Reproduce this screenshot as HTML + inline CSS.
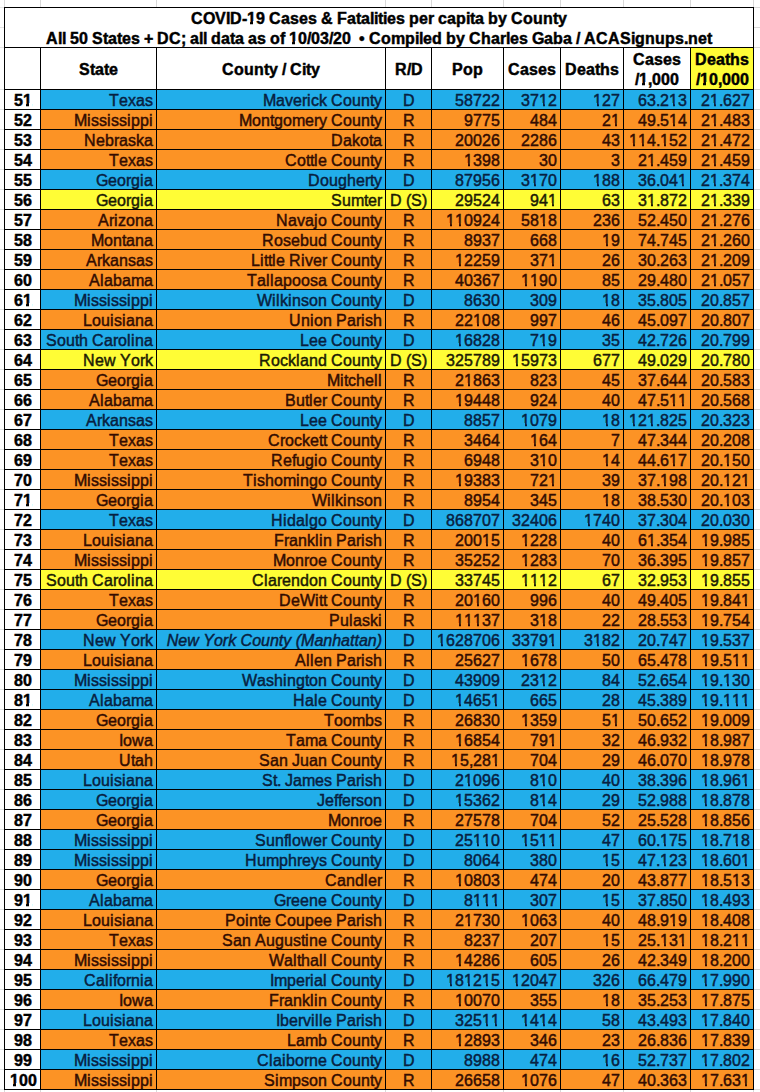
<!DOCTYPE html><html><head><meta charset="utf-8"><title>COVID-19 Cases & Fatalities per capita by County</title><style>html,body{margin:0;padding:0;background:#fff;}body{width:760px;height:1092px;position:relative;overflow:hidden;font-family:"Liberation Sans",sans-serif;color:#000;font-kerning:none;}.a{position:absolute;}.h{position:absolute;height:1px;background:#000;}.v{position:absolute;width:1px;background:#000;}.gh{position:absolute;height:1px;background:#d9d9d9;}.gv{position:absolute;width:1px;background:#d9d9d9;}.t{position:absolute;white-space:nowrap;font-size:16px;line-height:20px;height:20px;}.r{text-align:right;}.c{text-align:center;}.b{font-weight:bold;}.i{font-style:italic;}.t{-webkit-text-stroke:0.45px currentColor;}.o{position:relative}.o::before,.o::after{content:"";position:absolute;background:var(--bg,#fff);top:12.0px;height:4.0px}.o::before{left:0.0px;width:3.85px}.o::after{left:5.65px;width:3.2px}.b .o::before{left:0.1px;width:3.25px;top:11.8px;height:4.2px}.b .o::after{left:6.25px;width:2.8px}.b .o::after{top:11.8px;height:4.2px}.k2{display:inline-block;width:2px}.k3{display:inline-block;width:3px}.k4{display:inline-block;width:4px}.k5{display:inline-block;width:5px}.k6{display:inline-block;width:6px}.k7{display:inline-block;width:7px}.k8{display:inline-block;width:8px}.k9{display:inline-block;width:9px}.k10{display:inline-block;width:10px}.k11{display:inline-block;width:11px}.k12{display:inline-block;width:12px}.k13{display:inline-block;width:13px}.k14{display:inline-block;width:14px}.k15{display:inline-block;width:15px}.cb{--bg:#22aeea}.co{--bg:#fc9325}.cy{--bg:#fffd36}</style></head><body><div class="a" style="left:40px;top:89px;width:713px;height:20px;background:#22aeea"></div><div class="a" style="left:40px;top:109px;width:713px;height:20px;background:#fc9325"></div><div class="a" style="left:40px;top:129px;width:713px;height:20px;background:#fc9325"></div><div class="a" style="left:40px;top:149px;width:713px;height:20px;background:#fc9325"></div><div class="a" style="left:40px;top:169px;width:713px;height:20px;background:#22aeea"></div><div class="a" style="left:40px;top:189px;width:713px;height:20px;background:#fffd36"></div><div class="a" style="left:40px;top:209px;width:713px;height:20px;background:#fc9325"></div><div class="a" style="left:40px;top:229px;width:713px;height:20px;background:#fc9325"></div><div class="a" style="left:40px;top:249px;width:713px;height:20px;background:#fc9325"></div><div class="a" style="left:40px;top:269px;width:713px;height:20px;background:#fc9325"></div><div class="a" style="left:40px;top:289px;width:713px;height:20px;background:#22aeea"></div><div class="a" style="left:40px;top:309px;width:713px;height:20px;background:#fc9325"></div><div class="a" style="left:40px;top:329px;width:713px;height:20px;background:#22aeea"></div><div class="a" style="left:40px;top:349px;width:713px;height:20px;background:#fffd36"></div><div class="a" style="left:40px;top:369px;width:713px;height:20px;background:#fc9325"></div><div class="a" style="left:40px;top:389px;width:713px;height:20px;background:#fc9325"></div><div class="a" style="left:40px;top:409px;width:713px;height:20px;background:#22aeea"></div><div class="a" style="left:40px;top:429px;width:713px;height:20px;background:#fc9325"></div><div class="a" style="left:40px;top:449px;width:713px;height:20px;background:#fc9325"></div><div class="a" style="left:40px;top:469px;width:713px;height:20px;background:#fc9325"></div><div class="a" style="left:40px;top:489px;width:713px;height:20px;background:#fc9325"></div><div class="a" style="left:40px;top:509px;width:713px;height:20px;background:#22aeea"></div><div class="a" style="left:40px;top:529px;width:713px;height:20px;background:#fc9325"></div><div class="a" style="left:40px;top:549px;width:713px;height:20px;background:#fc9325"></div><div class="a" style="left:40px;top:569px;width:713px;height:20px;background:#fffd36"></div><div class="a" style="left:40px;top:589px;width:713px;height:20px;background:#fc9325"></div><div class="a" style="left:40px;top:609px;width:713px;height:20px;background:#fc9325"></div><div class="a" style="left:40px;top:629px;width:713px;height:20px;background:#22aeea"></div><div class="a" style="left:40px;top:649px;width:713px;height:20px;background:#fc9325"></div><div class="a" style="left:40px;top:669px;width:713px;height:20px;background:#22aeea"></div><div class="a" style="left:40px;top:689px;width:713px;height:20px;background:#22aeea"></div><div class="a" style="left:40px;top:709px;width:713px;height:20px;background:#fc9325"></div><div class="a" style="left:40px;top:729px;width:713px;height:20px;background:#fc9325"></div><div class="a" style="left:40px;top:749px;width:713px;height:20px;background:#fc9325"></div><div class="a" style="left:40px;top:769px;width:713px;height:20px;background:#22aeea"></div><div class="a" style="left:40px;top:789px;width:713px;height:20px;background:#22aeea"></div><div class="a" style="left:40px;top:809px;width:713px;height:20px;background:#fc9325"></div><div class="a" style="left:40px;top:829px;width:713px;height:20px;background:#22aeea"></div><div class="a" style="left:40px;top:849px;width:713px;height:20px;background:#22aeea"></div><div class="a" style="left:40px;top:869px;width:713px;height:20px;background:#fc9325"></div><div class="a" style="left:40px;top:889px;width:713px;height:20px;background:#22aeea"></div><div class="a" style="left:40px;top:909px;width:713px;height:20px;background:#fc9325"></div><div class="a" style="left:40px;top:929px;width:713px;height:20px;background:#fc9325"></div><div class="a" style="left:40px;top:949px;width:713px;height:20px;background:#fc9325"></div><div class="a" style="left:40px;top:969px;width:713px;height:20px;background:#22aeea"></div><div class="a" style="left:40px;top:989px;width:713px;height:20px;background:#fc9325"></div><div class="a" style="left:40px;top:1009px;width:713px;height:20px;background:#22aeea"></div><div class="a" style="left:40px;top:1029px;width:713px;height:20px;background:#fc9325"></div><div class="a" style="left:40px;top:1049px;width:713px;height:20px;background:#22aeea"></div><div class="a" style="left:40px;top:1069px;width:713px;height:20px;background:#fc9325"></div><div class="a" style="left:690px;top:47px;width:63px;height:42px;background:#fffd36"></div><div class="gv" style="left:4px;top:0;height:7px"></div><div class="gv" style="left:4px;top:1090px;height:2px"></div><div class="gv" style="left:40px;top:0;height:7px"></div><div class="gv" style="left:40px;top:1090px;height:2px"></div><div class="gv" style="left:156px;top:0;height:7px"></div><div class="gv" style="left:156px;top:1090px;height:2px"></div><div class="gv" style="left:385px;top:0;height:7px"></div><div class="gv" style="left:385px;top:1090px;height:2px"></div><div class="gv" style="left:431px;top:0;height:7px"></div><div class="gv" style="left:431px;top:1090px;height:2px"></div><div class="gv" style="left:503px;top:0;height:7px"></div><div class="gv" style="left:503px;top:1090px;height:2px"></div><div class="gv" style="left:560px;top:0;height:7px"></div><div class="gv" style="left:560px;top:1090px;height:2px"></div><div class="gv" style="left:623px;top:0;height:7px"></div><div class="gv" style="left:623px;top:1090px;height:2px"></div><div class="gv" style="left:690px;top:0;height:7px"></div><div class="gv" style="left:690px;top:1090px;height:2px"></div><div class="gv" style="left:753px;top:0;height:7px"></div><div class="gv" style="left:753px;top:1090px;height:2px"></div><div class="gh" style="left:0;top:7px;width:4px;background:#e4e4e4"></div><div class="gh" style="left:754px;top:7px;width:6px"></div><div class="gh" style="left:0;top:27px;width:4px;background:#e4e4e4"></div><div class="gh" style="left:754px;top:27px;width:6px"></div><div class="gh" style="left:0;top:47px;width:4px;background:#e4e4e4"></div><div class="gh" style="left:754px;top:47px;width:6px"></div><div class="gh" style="left:0;top:89px;width:4px;background:#e4e4e4"></div><div class="gh" style="left:754px;top:89px;width:6px"></div><div class="gh" style="left:0;top:109px;width:4px;background:#e4e4e4"></div><div class="gh" style="left:754px;top:109px;width:6px"></div><div class="gh" style="left:0;top:129px;width:4px;background:#e4e4e4"></div><div class="gh" style="left:754px;top:129px;width:6px"></div><div class="gh" style="left:0;top:149px;width:4px;background:#e4e4e4"></div><div class="gh" style="left:754px;top:149px;width:6px"></div><div class="gh" style="left:0;top:169px;width:4px;background:#e4e4e4"></div><div class="gh" style="left:754px;top:169px;width:6px"></div><div class="gh" style="left:0;top:189px;width:4px;background:#e4e4e4"></div><div class="gh" style="left:754px;top:189px;width:6px"></div><div class="gh" style="left:0;top:209px;width:4px;background:#e4e4e4"></div><div class="gh" style="left:754px;top:209px;width:6px"></div><div class="gh" style="left:0;top:229px;width:4px;background:#e4e4e4"></div><div class="gh" style="left:754px;top:229px;width:6px"></div><div class="gh" style="left:0;top:249px;width:4px;background:#e4e4e4"></div><div class="gh" style="left:754px;top:249px;width:6px"></div><div class="gh" style="left:0;top:269px;width:4px;background:#e4e4e4"></div><div class="gh" style="left:754px;top:269px;width:6px"></div><div class="gh" style="left:0;top:289px;width:4px;background:#e4e4e4"></div><div class="gh" style="left:754px;top:289px;width:6px"></div><div class="gh" style="left:0;top:309px;width:4px;background:#e4e4e4"></div><div class="gh" style="left:754px;top:309px;width:6px"></div><div class="gh" style="left:0;top:329px;width:4px;background:#e4e4e4"></div><div class="gh" style="left:754px;top:329px;width:6px"></div><div class="gh" style="left:0;top:349px;width:4px;background:#e4e4e4"></div><div class="gh" style="left:754px;top:349px;width:6px"></div><div class="gh" style="left:0;top:369px;width:4px;background:#e4e4e4"></div><div class="gh" style="left:754px;top:369px;width:6px"></div><div class="gh" style="left:0;top:389px;width:4px;background:#e4e4e4"></div><div class="gh" style="left:754px;top:389px;width:6px"></div><div class="gh" style="left:0;top:409px;width:4px;background:#e4e4e4"></div><div class="gh" style="left:754px;top:409px;width:6px"></div><div class="gh" style="left:0;top:429px;width:4px;background:#e4e4e4"></div><div class="gh" style="left:754px;top:429px;width:6px"></div><div class="gh" style="left:0;top:449px;width:4px;background:#e4e4e4"></div><div class="gh" style="left:754px;top:449px;width:6px"></div><div class="gh" style="left:0;top:469px;width:4px;background:#e4e4e4"></div><div class="gh" style="left:754px;top:469px;width:6px"></div><div class="gh" style="left:0;top:489px;width:4px;background:#e4e4e4"></div><div class="gh" style="left:754px;top:489px;width:6px"></div><div class="gh" style="left:0;top:509px;width:4px;background:#e4e4e4"></div><div class="gh" style="left:754px;top:509px;width:6px"></div><div class="gh" style="left:0;top:529px;width:4px;background:#e4e4e4"></div><div class="gh" style="left:754px;top:529px;width:6px"></div><div class="gh" style="left:0;top:549px;width:4px;background:#e4e4e4"></div><div class="gh" style="left:754px;top:549px;width:6px"></div><div class="gh" style="left:0;top:569px;width:4px;background:#e4e4e4"></div><div class="gh" style="left:754px;top:569px;width:6px"></div><div class="gh" style="left:0;top:589px;width:4px;background:#e4e4e4"></div><div class="gh" style="left:754px;top:589px;width:6px"></div><div class="gh" style="left:0;top:609px;width:4px;background:#e4e4e4"></div><div class="gh" style="left:754px;top:609px;width:6px"></div><div class="gh" style="left:0;top:629px;width:4px;background:#e4e4e4"></div><div class="gh" style="left:754px;top:629px;width:6px"></div><div class="gh" style="left:0;top:649px;width:4px;background:#e4e4e4"></div><div class="gh" style="left:754px;top:649px;width:6px"></div><div class="gh" style="left:0;top:669px;width:4px;background:#e4e4e4"></div><div class="gh" style="left:754px;top:669px;width:6px"></div><div class="gh" style="left:0;top:689px;width:4px;background:#e4e4e4"></div><div class="gh" style="left:754px;top:689px;width:6px"></div><div class="gh" style="left:0;top:709px;width:4px;background:#e4e4e4"></div><div class="gh" style="left:754px;top:709px;width:6px"></div><div class="gh" style="left:0;top:729px;width:4px;background:#e4e4e4"></div><div class="gh" style="left:754px;top:729px;width:6px"></div><div class="gh" style="left:0;top:749px;width:4px;background:#e4e4e4"></div><div class="gh" style="left:754px;top:749px;width:6px"></div><div class="gh" style="left:0;top:769px;width:4px;background:#e4e4e4"></div><div class="gh" style="left:754px;top:769px;width:6px"></div><div class="gh" style="left:0;top:789px;width:4px;background:#e4e4e4"></div><div class="gh" style="left:754px;top:789px;width:6px"></div><div class="gh" style="left:0;top:809px;width:4px;background:#e4e4e4"></div><div class="gh" style="left:754px;top:809px;width:6px"></div><div class="gh" style="left:0;top:829px;width:4px;background:#e4e4e4"></div><div class="gh" style="left:754px;top:829px;width:6px"></div><div class="gh" style="left:0;top:849px;width:4px;background:#e4e4e4"></div><div class="gh" style="left:754px;top:849px;width:6px"></div><div class="gh" style="left:0;top:869px;width:4px;background:#e4e4e4"></div><div class="gh" style="left:754px;top:869px;width:6px"></div><div class="gh" style="left:0;top:889px;width:4px;background:#e4e4e4"></div><div class="gh" style="left:754px;top:889px;width:6px"></div><div class="gh" style="left:0;top:909px;width:4px;background:#e4e4e4"></div><div class="gh" style="left:754px;top:909px;width:6px"></div><div class="gh" style="left:0;top:929px;width:4px;background:#e4e4e4"></div><div class="gh" style="left:754px;top:929px;width:6px"></div><div class="gh" style="left:0;top:949px;width:4px;background:#e4e4e4"></div><div class="gh" style="left:754px;top:949px;width:6px"></div><div class="gh" style="left:0;top:969px;width:4px;background:#e4e4e4"></div><div class="gh" style="left:754px;top:969px;width:6px"></div><div class="gh" style="left:0;top:989px;width:4px;background:#e4e4e4"></div><div class="gh" style="left:754px;top:989px;width:6px"></div><div class="gh" style="left:0;top:1009px;width:4px;background:#e4e4e4"></div><div class="gh" style="left:754px;top:1009px;width:6px"></div><div class="gh" style="left:0;top:1029px;width:4px;background:#e4e4e4"></div><div class="gh" style="left:754px;top:1029px;width:6px"></div><div class="gh" style="left:0;top:1049px;width:4px;background:#e4e4e4"></div><div class="gh" style="left:754px;top:1049px;width:6px"></div><div class="gh" style="left:0;top:1069px;width:4px;background:#e4e4e4"></div><div class="gh" style="left:754px;top:1069px;width:6px"></div><div class="gh" style="left:0;top:1089px;width:4px;background:#e4e4e4"></div><div class="gh" style="left:754px;top:1089px;width:6px"></div><div class="h" style="left:4px;top:7px;width:750px"></div><div class="h" style="left:4px;top:47px;width:750px"></div><div class="h" style="left:4px;top:89px;width:750px"></div><div class="h" style="left:4px;top:109px;width:750px"></div><div class="h" style="left:4px;top:129px;width:750px"></div><div class="h" style="left:4px;top:149px;width:750px"></div><div class="h" style="left:4px;top:169px;width:750px"></div><div class="h" style="left:4px;top:189px;width:750px"></div><div class="h" style="left:4px;top:209px;width:750px"></div><div class="h" style="left:4px;top:229px;width:750px"></div><div class="h" style="left:4px;top:249px;width:750px"></div><div class="h" style="left:4px;top:269px;width:750px"></div><div class="h" style="left:4px;top:289px;width:750px"></div><div class="h" style="left:4px;top:309px;width:750px"></div><div class="h" style="left:4px;top:329px;width:750px"></div><div class="h" style="left:4px;top:349px;width:750px"></div><div class="h" style="left:4px;top:369px;width:750px"></div><div class="h" style="left:4px;top:389px;width:750px"></div><div class="h" style="left:4px;top:409px;width:750px"></div><div class="h" style="left:4px;top:429px;width:750px"></div><div class="h" style="left:4px;top:449px;width:750px"></div><div class="h" style="left:4px;top:469px;width:750px"></div><div class="h" style="left:4px;top:489px;width:750px"></div><div class="h" style="left:4px;top:509px;width:750px"></div><div class="h" style="left:4px;top:529px;width:750px"></div><div class="h" style="left:4px;top:549px;width:750px"></div><div class="h" style="left:4px;top:569px;width:750px"></div><div class="h" style="left:4px;top:589px;width:750px"></div><div class="h" style="left:4px;top:609px;width:750px"></div><div class="h" style="left:4px;top:629px;width:750px"></div><div class="h" style="left:4px;top:649px;width:750px"></div><div class="h" style="left:4px;top:669px;width:750px"></div><div class="h" style="left:4px;top:689px;width:750px"></div><div class="h" style="left:4px;top:709px;width:750px"></div><div class="h" style="left:4px;top:729px;width:750px"></div><div class="h" style="left:4px;top:749px;width:750px"></div><div class="h" style="left:4px;top:769px;width:750px"></div><div class="h" style="left:4px;top:789px;width:750px"></div><div class="h" style="left:4px;top:809px;width:750px"></div><div class="h" style="left:4px;top:829px;width:750px"></div><div class="h" style="left:4px;top:849px;width:750px"></div><div class="h" style="left:4px;top:869px;width:750px"></div><div class="h" style="left:4px;top:889px;width:750px"></div><div class="h" style="left:4px;top:909px;width:750px"></div><div class="h" style="left:4px;top:929px;width:750px"></div><div class="h" style="left:4px;top:949px;width:750px"></div><div class="h" style="left:4px;top:969px;width:750px"></div><div class="h" style="left:4px;top:989px;width:750px"></div><div class="h" style="left:4px;top:1009px;width:750px"></div><div class="h" style="left:4px;top:1029px;width:750px"></div><div class="h" style="left:4px;top:1049px;width:750px"></div><div class="h" style="left:4px;top:1069px;width:750px"></div><div class="h" style="left:4px;top:1089px;width:750px"></div><div class="v" style="left:4px;top:7px;height:1083px"></div><div class="v" style="left:753px;top:7px;height:1083px"></div><div class="v" style="left:40px;top:47px;height:1043px"></div><div class="v" style="left:156px;top:47px;height:1043px"></div><div class="v" style="left:385px;top:47px;height:1043px"></div><div class="v" style="left:431px;top:47px;height:1043px"></div><div class="v" style="left:503px;top:47px;height:1043px"></div><div class="v" style="left:560px;top:47px;height:1043px"></div><div class="v" style="left:623px;top:47px;height:1043px"></div><div class="v" style="left:690px;top:47px;height:1043px"></div><div class="t b" style="left:191px;top:9px"><span class="k12">C</span><span class="k12">O</span><span class="k11">V</span><span class="k4">I</span><span class="k12">D</span><span class="k5">-</span><span class="k9 o">1</span><span class="k9">9</span><span class="k4">&nbsp;</span><span class="k12">C</span><span class="k9">a</span><span class="k9">s</span><span class="k9">e</span><span class="k9">s</span><span class="k4">&nbsp;</span><span class="k12">&amp;</span><span class="k4">&nbsp;</span><span class="k10">F</span><span class="k9">a</span><span class="k5">t</span><span class="k9">a</span><span class="k4">l</span><span class="k4">i</span><span class="k5">t</span><span class="k4">i</span><span class="k9">e</span><span class="k9">s</span><span class="k4">&nbsp;</span><span class="k10">p</span><span class="k9">e</span><span class="k6">r</span><span class="k4">&nbsp;</span><span class="k9">c</span><span class="k9">a</span><span class="k10">p</span><span class="k4">i</span><span class="k5">t</span><span class="k9">a</span><span class="k4">&nbsp;</span><span class="k10">b</span><span class="k9">y</span><span class="k4">&nbsp;</span><span class="k12">C</span><span class="k10">o</span><span class="k10">u</span><span class="k10">n</span><span class="k5">t</span><span class="k9">y</span></div><div class="t b" style="left:46px;top:29px"><span class="k12">A</span><span class="k4">l</span><span class="k4">l</span><span class="k4">&nbsp;</span><span class="k9">5</span><span class="k9">0</span><span class="k4">&nbsp;</span><span class="k11">S</span><span class="k5">t</span><span class="k9">a</span><span class="k5">t</span><span class="k9">e</span><span class="k9">s</span><span class="k4">&nbsp;</span><span class="k9">+</span><span class="k4">&nbsp;</span><span class="k12">D</span><span class="k12">C</span><span class="k5">;</span><span class="k4">&nbsp;</span><span class="k9">a</span><span class="k4">l</span><span class="k4">l</span><span class="k4">&nbsp;</span><span class="k10">d</span><span class="k9">a</span><span class="k5">t</span><span class="k9">a</span><span class="k4">&nbsp;</span><span class="k9">a</span><span class="k9">s</span><span class="k4">&nbsp;</span><span class="k10">o</span><span class="k5">f</span><span class="k4">&nbsp;</span><span class="k9 o">1</span><span class="k9">0</span><span class="k4">/</span><span class="k9">0</span><span class="k9">3</span><span class="k4">/</span><span class="k9">2</span><span class="k9">0</span><span class="k4">&nbsp;</span><span class="k4">&nbsp;</span><span class="k6">&bull;</span><span class="k4">&nbsp;</span><span class="k12">C</span><span class="k10">o</span><span class="k14">m</span><span class="k10">p</span><span class="k4">i</span><span class="k4">l</span><span class="k9">e</span><span class="k10">d</span><span class="k4">&nbsp;</span><span class="k10">b</span><span class="k9">y</span><span class="k4">&nbsp;</span><span class="k12">C</span><span class="k10">h</span><span class="k9">a</span><span class="k6">r</span><span class="k4">l</span><span class="k9">e</span><span class="k9">s</span><span class="k4">&nbsp;</span><span class="k12">G</span><span class="k9">a</span><span class="k10">b</span><span class="k9">a</span><span class="k4">&nbsp;</span><span class="k4">/</span><span class="k4">&nbsp;</span><span class="k12">A</span><span class="k12">C</span><span class="k12">A</span><span class="k11">S</span><span class="k4">i</span><span class="k10">g</span><span class="k10">n</span><span class="k10">u</span><span class="k10">p</span><span class="k9">s</span><span class="k4">.</span><span class="k10">n</span><span class="k9">e</span><span class="k5">t</span></div><div class="t b" style="left:79px;top:60px"><span class="k11">S</span><span class="k5">t</span><span class="k9">a</span><span class="k5">t</span><span class="k9">e</span></div><div class="t b" style="left:222px;top:60px"><span class="k12">C</span><span class="k10">o</span><span class="k10">u</span><span class="k10">n</span><span class="k5">t</span><span class="k9">y</span><span class="k4">&nbsp;</span><span class="k4">/</span><span class="k4">&nbsp;</span><span class="k12">C</span><span class="k4">i</span><span class="k5">t</span><span class="k9">y</span></div><div class="t b" style="left:395px;top:60px"><span class="k12">R</span><span class="k4">/</span><span class="k12">D</span></div><div class="t b" style="left:452px;top:60px"><span class="k11">P</span><span class="k10">o</span><span class="k10">p</span></div><div class="t b" style="left:508px;top:60px"><span class="k12">C</span><span class="k9">a</span><span class="k9">s</span><span class="k9">e</span><span class="k9">s</span></div><div class="t b" style="left:565px;top:60px"><span class="k12">D</span><span class="k9">e</span><span class="k9">a</span><span class="k5">t</span><span class="k10">h</span><span class="k9">s</span></div><div class="t b" style="left:633px;top:50px"><span class="k12">C</span><span class="k9">a</span><span class="k9">s</span><span class="k9">e</span><span class="k9">s</span></div><div class="t b" style="left:635px;top:70px"><span class="k4">/</span><span class="k9 o">1</span><span class="k4">,</span><span class="k9">0</span><span class="k9">0</span><span class="k9">0</span></div><div class="t b" style="left:695px;top:50px"><span class="k12">D</span><span class="k9">e</span><span class="k9">a</span><span class="k5">t</span><span class="k10">h</span><span class="k9">s</span></div><div class="t cy b" style="left:696px;top:70px"><span class="k4">/</span><span class="k9 o">1</span><span class="k9">0</span><span class="k4">,</span><span class="k9">0</span><span class="k9">0</span><span class="k9">0</span></div><div class="t b" style="left:14px;top:91px"><span class="k9">5</span><span class="k9 o">1</span></div><div class="t cb" style="left:109px;top:91px;color:#08203f"><span class="k10">T</span><span class="k9">e</span><span class="k8">x</span><span class="k9">a</span><span class="k8">s</span></div><div class="t cb" style="left:263px;top:91px;color:#08203f"><span class="k13">M</span><span class="k9">a</span><span class="k8">v</span><span class="k9">e</span><span class="k5">r</span><span class="k4">i</span><span class="k8">c</span><span class="k8">k</span><span class="k4">&nbsp;</span><span class="k12">C</span><span class="k9">o</span><span class="k9">u</span><span class="k9">n</span><span class="k4">t</span><span class="k8">y</span></div><div class="t cb" style="left:403px;top:91px;color:#08203f"><span class="k12">D</span></div><div class="t cb" style="left:455px;top:91px;color:#08203f"><span class="k9">5</span><span class="k9">8</span><span class="k9">7</span><span class="k9">2</span><span class="k9">2</span></div><div class="t cb" style="left:521px;top:91px;color:#08203f"><span class="k9">3</span><span class="k9">7</span><span class="k9 o">1</span><span class="k9">2</span></div><div class="t cb" style="left:593px;top:91px;color:#08203f"><span class="k9 o">1</span><span class="k9">2</span><span class="k9">7</span></div><div class="t cb" style="left:638px;top:91px;color:#08203f"><span class="k9">6</span><span class="k9">3</span><span class="k4">.</span><span class="k9">2</span><span class="k9 o">1</span><span class="k9">3</span></div><div class="t cb" style="left:701px;top:91px;color:#08203f"><span class="k9">2</span><span class="k9 o">1</span><span class="k4">.</span><span class="k9">6</span><span class="k9">2</span><span class="k9">7</span></div><div class="t b" style="left:14px;top:111px"><span class="k9">5</span><span class="k9">2</span></div><div class="t co" style="left:74px;top:111px;color:#320c02"><span class="k13">M</span><span class="k4">i</span><span class="k8">s</span><span class="k8">s</span><span class="k4">i</span><span class="k8">s</span><span class="k8">s</span><span class="k4">i</span><span class="k9">p</span><span class="k9">p</span><span class="k4">i</span></div><div class="t co" style="left:239px;top:111px;color:#320c02"><span class="k13">M</span><span class="k9">o</span><span class="k9">n</span><span class="k4">t</span><span class="k9">g</span><span class="k9">o</span><span class="k13">m</span><span class="k9">e</span><span class="k5">r</span><span class="k8">y</span><span class="k4">&nbsp;</span><span class="k12">C</span><span class="k9">o</span><span class="k9">u</span><span class="k9">n</span><span class="k4">t</span><span class="k8">y</span></div><div class="t co" style="left:403px;top:111px;color:#320c02"><span class="k12">R</span></div><div class="t co" style="left:464px;top:111px;color:#320c02"><span class="k9">9</span><span class="k9">7</span><span class="k9">7</span><span class="k9">5</span></div><div class="t co" style="left:530px;top:111px;color:#320c02"><span class="k9">4</span><span class="k9">8</span><span class="k9">4</span></div><div class="t co" style="left:602px;top:111px;color:#320c02"><span class="k9">2</span><span class="k9 o">1</span></div><div class="t co" style="left:638px;top:111px;color:#320c02"><span class="k9">4</span><span class="k9">9</span><span class="k4">.</span><span class="k9">5</span><span class="k9 o">1</span><span class="k9">4</span></div><div class="t co" style="left:701px;top:111px;color:#320c02"><span class="k9">2</span><span class="k9 o">1</span><span class="k4">.</span><span class="k9">4</span><span class="k9">8</span><span class="k9">3</span></div><div class="t b" style="left:14px;top:131px"><span class="k9">5</span><span class="k9">3</span></div><div class="t co" style="left:84px;top:131px;color:#320c02"><span class="k12">N</span><span class="k9">e</span><span class="k9">b</span><span class="k5">r</span><span class="k9">a</span><span class="k8">s</span><span class="k8">k</span><span class="k9">a</span></div><div class="t co" style="left:331px;top:131px;color:#320c02"><span class="k12">D</span><span class="k9">a</span><span class="k8">k</span><span class="k9">o</span><span class="k4">t</span><span class="k9">a</span></div><div class="t co" style="left:403px;top:131px;color:#320c02"><span class="k12">R</span></div><div class="t co" style="left:455px;top:131px;color:#320c02"><span class="k9">2</span><span class="k9">0</span><span class="k9">0</span><span class="k9">2</span><span class="k9">6</span></div><div class="t co" style="left:521px;top:131px;color:#320c02"><span class="k9">2</span><span class="k9">2</span><span class="k9">8</span><span class="k9">6</span></div><div class="t co" style="left:602px;top:131px;color:#320c02"><span class="k9">4</span><span class="k9">3</span></div><div class="t co" style="left:629px;top:131px;color:#320c02"><span class="k9 o">1</span><span class="k9 o">1</span><span class="k9">4</span><span class="k4">.</span><span class="k9 o">1</span><span class="k9">5</span><span class="k9">2</span></div><div class="t co" style="left:701px;top:131px;color:#320c02"><span class="k9">2</span><span class="k9 o">1</span><span class="k4">.</span><span class="k9">4</span><span class="k9">7</span><span class="k9">2</span></div><div class="t b" style="left:14px;top:151px"><span class="k9">5</span><span class="k9">4</span></div><div class="t co" style="left:109px;top:151px;color:#320c02"><span class="k10">T</span><span class="k9">e</span><span class="k8">x</span><span class="k9">a</span><span class="k8">s</span></div><div class="t co" style="left:285px;top:151px;color:#320c02"><span class="k12">C</span><span class="k9">o</span><span class="k4">t</span><span class="k4">t</span><span class="k4">l</span><span class="k9">e</span><span class="k4">&nbsp;</span><span class="k12">C</span><span class="k9">o</span><span class="k9">u</span><span class="k9">n</span><span class="k4">t</span><span class="k8">y</span></div><div class="t co" style="left:403px;top:151px;color:#320c02"><span class="k12">R</span></div><div class="t co" style="left:464px;top:151px;color:#320c02"><span class="k9 o">1</span><span class="k9">3</span><span class="k9">9</span><span class="k9">8</span></div><div class="t co" style="left:539px;top:151px;color:#320c02"><span class="k9">3</span><span class="k9">0</span></div><div class="t co" style="left:611px;top:151px;color:#320c02"><span class="k9">3</span></div><div class="t co" style="left:638px;top:151px;color:#320c02"><span class="k9">2</span><span class="k9 o">1</span><span class="k4">.</span><span class="k9">4</span><span class="k9">5</span><span class="k9">9</span></div><div class="t co" style="left:701px;top:151px;color:#320c02"><span class="k9">2</span><span class="k9 o">1</span><span class="k4">.</span><span class="k9">4</span><span class="k9">5</span><span class="k9">9</span></div><div class="t b" style="left:14px;top:171px"><span class="k9">5</span><span class="k9">5</span></div><div class="t cb" style="left:96px;top:171px;color:#08203f"><span class="k12">G</span><span class="k9">e</span><span class="k9">o</span><span class="k5">r</span><span class="k9">g</span><span class="k4">i</span><span class="k9">a</span></div><div class="t cb" style="left:308px;top:171px;color:#08203f"><span class="k12">D</span><span class="k9">o</span><span class="k9">u</span><span class="k9">g</span><span class="k9">h</span><span class="k9">e</span><span class="k5">r</span><span class="k4">t</span><span class="k8">y</span></div><div class="t cb" style="left:403px;top:171px;color:#08203f"><span class="k12">D</span></div><div class="t cb" style="left:455px;top:171px;color:#08203f"><span class="k9">8</span><span class="k9">7</span><span class="k9">9</span><span class="k9">5</span><span class="k9">6</span></div><div class="t cb" style="left:521px;top:171px;color:#08203f"><span class="k9">3</span><span class="k9 o">1</span><span class="k9">7</span><span class="k9">0</span></div><div class="t cb" style="left:593px;top:171px;color:#08203f"><span class="k9 o">1</span><span class="k9">8</span><span class="k9">8</span></div><div class="t cb" style="left:638px;top:171px;color:#08203f"><span class="k9">3</span><span class="k9">6</span><span class="k4">.</span><span class="k9">0</span><span class="k9">4</span><span class="k9 o">1</span></div><div class="t cb" style="left:701px;top:171px;color:#08203f"><span class="k9">2</span><span class="k9 o">1</span><span class="k4">.</span><span class="k9">3</span><span class="k9">7</span><span class="k9">4</span></div><div class="t b" style="left:14px;top:191px"><span class="k9">5</span><span class="k9">6</span></div><div class="t cy" style="left:96px;top:191px;color:#1b1b05"><span class="k12">G</span><span class="k9">e</span><span class="k9">o</span><span class="k5">r</span><span class="k9">g</span><span class="k4">i</span><span class="k9">a</span></div><div class="t cy" style="left:331px;top:191px;color:#1b1b05"><span class="k11">S</span><span class="k9">u</span><span class="k13">m</span><span class="k4">t</span><span class="k9">e</span><span class="k5">r</span></div><div class="t cy" style="left:390px;top:191px;color:#1b1b05"><span class="k12">D</span><span class="k4">&nbsp;</span><span class="k5">(</span><span class="k11">S</span><span class="k5">)</span></div><div class="t cy" style="left:455px;top:191px;color:#1b1b05"><span class="k9">2</span><span class="k9">9</span><span class="k9">5</span><span class="k9">2</span><span class="k9">4</span></div><div class="t cy" style="left:530px;top:191px;color:#1b1b05"><span class="k9">9</span><span class="k9">4</span><span class="k9 o">1</span></div><div class="t cy" style="left:602px;top:191px;color:#1b1b05"><span class="k9">6</span><span class="k9">3</span></div><div class="t cy" style="left:638px;top:191px;color:#1b1b05"><span class="k9">3</span><span class="k9 o">1</span><span class="k4">.</span><span class="k9">8</span><span class="k9">7</span><span class="k9">2</span></div><div class="t cy" style="left:701px;top:191px;color:#1b1b05"><span class="k9">2</span><span class="k9 o">1</span><span class="k4">.</span><span class="k9">3</span><span class="k9">3</span><span class="k9">9</span></div><div class="t b" style="left:14px;top:211px"><span class="k9">5</span><span class="k9">7</span></div><div class="t co" style="left:98px;top:211px;color:#320c02"><span class="k11">A</span><span class="k5">r</span><span class="k4">i</span><span class="k8">z</span><span class="k9">o</span><span class="k9">n</span><span class="k9">a</span></div><div class="t co" style="left:276px;top:211px;color:#320c02"><span class="k12">N</span><span class="k9">a</span><span class="k8">v</span><span class="k9">a</span><span class="k4">j</span><span class="k9">o</span><span class="k4">&nbsp;</span><span class="k12">C</span><span class="k9">o</span><span class="k9">u</span><span class="k9">n</span><span class="k4">t</span><span class="k8">y</span></div><div class="t co" style="left:403px;top:211px;color:#320c02"><span class="k12">R</span></div><div class="t co" style="left:446px;top:211px;color:#320c02"><span class="k9 o">1</span><span class="k9 o">1</span><span class="k9">0</span><span class="k9">9</span><span class="k9">2</span><span class="k9">4</span></div><div class="t co" style="left:521px;top:211px;color:#320c02"><span class="k9">5</span><span class="k9">8</span><span class="k9 o">1</span><span class="k9">8</span></div><div class="t co" style="left:593px;top:211px;color:#320c02"><span class="k9">2</span><span class="k9">3</span><span class="k9">6</span></div><div class="t co" style="left:638px;top:211px;color:#320c02"><span class="k9">5</span><span class="k9">2</span><span class="k4">.</span><span class="k9">4</span><span class="k9">5</span><span class="k9">0</span></div><div class="t co" style="left:701px;top:211px;color:#320c02"><span class="k9">2</span><span class="k9 o">1</span><span class="k4">.</span><span class="k9">2</span><span class="k9">7</span><span class="k9">6</span></div><div class="t b" style="left:14px;top:231px"><span class="k9">5</span><span class="k9">8</span></div><div class="t co" style="left:91px;top:231px;color:#320c02"><span class="k13">M</span><span class="k9">o</span><span class="k9">n</span><span class="k4">t</span><span class="k9">a</span><span class="k9">n</span><span class="k9">a</span></div><div class="t co" style="left:262px;top:231px;color:#320c02"><span class="k12">R</span><span class="k9">o</span><span class="k8">s</span><span class="k9">e</span><span class="k9">b</span><span class="k9">u</span><span class="k9">d</span><span class="k4">&nbsp;</span><span class="k12">C</span><span class="k9">o</span><span class="k9">u</span><span class="k9">n</span><span class="k4">t</span><span class="k8">y</span></div><div class="t co" style="left:403px;top:231px;color:#320c02"><span class="k12">R</span></div><div class="t co" style="left:464px;top:231px;color:#320c02"><span class="k9">8</span><span class="k9">9</span><span class="k9">3</span><span class="k9">7</span></div><div class="t co" style="left:530px;top:231px;color:#320c02"><span class="k9">6</span><span class="k9">6</span><span class="k9">8</span></div><div class="t co" style="left:602px;top:231px;color:#320c02"><span class="k9 o">1</span><span class="k9">9</span></div><div class="t co" style="left:638px;top:231px;color:#320c02"><span class="k9">7</span><span class="k9">4</span><span class="k4">.</span><span class="k9">7</span><span class="k9">4</span><span class="k9">5</span></div><div class="t co" style="left:701px;top:231px;color:#320c02"><span class="k9">2</span><span class="k9 o">1</span><span class="k4">.</span><span class="k9">2</span><span class="k9">6</span><span class="k9">0</span></div><div class="t b" style="left:14px;top:251px"><span class="k9">5</span><span class="k9">9</span></div><div class="t co" style="left:86px;top:251px;color:#320c02"><span class="k11">A</span><span class="k5">r</span><span class="k8">k</span><span class="k9">a</span><span class="k9">n</span><span class="k8">s</span><span class="k9">a</span><span class="k8">s</span></div><div class="t co" style="left:251px;top:251px;color:#320c02"><span class="k9">L</span><span class="k4">i</span><span class="k4">t</span><span class="k4">t</span><span class="k4">l</span><span class="k9">e</span><span class="k4">&nbsp;</span><span class="k12">R</span><span class="k4">i</span><span class="k8">v</span><span class="k9">e</span><span class="k5">r</span><span class="k4">&nbsp;</span><span class="k12">C</span><span class="k9">o</span><span class="k9">u</span><span class="k9">n</span><span class="k4">t</span><span class="k8">y</span></div><div class="t co" style="left:403px;top:251px;color:#320c02"><span class="k12">R</span></div><div class="t co" style="left:455px;top:251px;color:#320c02"><span class="k9 o">1</span><span class="k9">2</span><span class="k9">2</span><span class="k9">5</span><span class="k9">9</span></div><div class="t co" style="left:530px;top:251px;color:#320c02"><span class="k9">3</span><span class="k9">7</span><span class="k9 o">1</span></div><div class="t co" style="left:602px;top:251px;color:#320c02"><span class="k9">2</span><span class="k9">6</span></div><div class="t co" style="left:638px;top:251px;color:#320c02"><span class="k9">3</span><span class="k9">0</span><span class="k4">.</span><span class="k9">2</span><span class="k9">6</span><span class="k9">3</span></div><div class="t co" style="left:701px;top:251px;color:#320c02"><span class="k9">2</span><span class="k9 o">1</span><span class="k4">.</span><span class="k9">2</span><span class="k9">0</span><span class="k9">9</span></div><div class="t b" style="left:14px;top:271px"><span class="k9">6</span><span class="k9">0</span></div><div class="t co" style="left:89px;top:271px;color:#320c02"><span class="k11">A</span><span class="k4">l</span><span class="k9">a</span><span class="k9">b</span><span class="k9">a</span><span class="k13">m</span><span class="k9">a</span></div><div class="t co" style="left:247px;top:271px;color:#320c02"><span class="k10">T</span><span class="k9">a</span><span class="k4">l</span><span class="k4">l</span><span class="k9">a</span><span class="k9">p</span><span class="k9">o</span><span class="k9">o</span><span class="k8">s</span><span class="k9">a</span><span class="k4">&nbsp;</span><span class="k12">C</span><span class="k9">o</span><span class="k9">u</span><span class="k9">n</span><span class="k4">t</span><span class="k8">y</span></div><div class="t co" style="left:403px;top:271px;color:#320c02"><span class="k12">R</span></div><div class="t co" style="left:455px;top:271px;color:#320c02"><span class="k9">4</span><span class="k9">0</span><span class="k9">3</span><span class="k9">6</span><span class="k9">7</span></div><div class="t co" style="left:521px;top:271px;color:#320c02"><span class="k9 o">1</span><span class="k9 o">1</span><span class="k9">9</span><span class="k9">0</span></div><div class="t co" style="left:602px;top:271px;color:#320c02"><span class="k9">8</span><span class="k9">5</span></div><div class="t co" style="left:638px;top:271px;color:#320c02"><span class="k9">2</span><span class="k9">9</span><span class="k4">.</span><span class="k9">4</span><span class="k9">8</span><span class="k9">0</span></div><div class="t co" style="left:701px;top:271px;color:#320c02"><span class="k9">2</span><span class="k9 o">1</span><span class="k4">.</span><span class="k9">0</span><span class="k9">5</span><span class="k9">7</span></div><div class="t b" style="left:14px;top:291px"><span class="k9">6</span><span class="k9 o">1</span></div><div class="t cb" style="left:74px;top:291px;color:#08203f"><span class="k13">M</span><span class="k4">i</span><span class="k8">s</span><span class="k8">s</span><span class="k4">i</span><span class="k8">s</span><span class="k8">s</span><span class="k4">i</span><span class="k9">p</span><span class="k9">p</span><span class="k4">i</span></div><div class="t cb" style="left:257px;top:291px;color:#08203f"><span class="k15">W</span><span class="k4">i</span><span class="k4">l</span><span class="k8">k</span><span class="k4">i</span><span class="k9">n</span><span class="k8">s</span><span class="k9">o</span><span class="k9">n</span><span class="k4">&nbsp;</span><span class="k12">C</span><span class="k9">o</span><span class="k9">u</span><span class="k9">n</span><span class="k4">t</span><span class="k8">y</span></div><div class="t cb" style="left:403px;top:291px;color:#08203f"><span class="k12">D</span></div><div class="t cb" style="left:464px;top:291px;color:#08203f"><span class="k9">8</span><span class="k9">6</span><span class="k9">3</span><span class="k9">0</span></div><div class="t cb" style="left:530px;top:291px;color:#08203f"><span class="k9">3</span><span class="k9">0</span><span class="k9">9</span></div><div class="t cb" style="left:602px;top:291px;color:#08203f"><span class="k9 o">1</span><span class="k9">8</span></div><div class="t cb" style="left:638px;top:291px;color:#08203f"><span class="k9">3</span><span class="k9">5</span><span class="k4">.</span><span class="k9">8</span><span class="k9">0</span><span class="k9">5</span></div><div class="t cb" style="left:701px;top:291px;color:#08203f"><span class="k9">2</span><span class="k9">0</span><span class="k4">.</span><span class="k9">8</span><span class="k9">5</span><span class="k9">7</span></div><div class="t b" style="left:14px;top:311px"><span class="k9">6</span><span class="k9">2</span></div><div class="t co" style="left:83px;top:311px;color:#320c02"><span class="k9">L</span><span class="k9">o</span><span class="k9">u</span><span class="k4">i</span><span class="k8">s</span><span class="k4">i</span><span class="k9">a</span><span class="k9">n</span><span class="k9">a</span></div><div class="t co" style="left:289px;top:311px;color:#320c02"><span class="k12">U</span><span class="k9">n</span><span class="k4">i</span><span class="k9">o</span><span class="k9">n</span><span class="k4">&nbsp;</span><span class="k11">P</span><span class="k9">a</span><span class="k5">r</span><span class="k4">i</span><span class="k8">s</span><span class="k9">h</span></div><div class="t co" style="left:403px;top:311px;color:#320c02"><span class="k12">R</span></div><div class="t co" style="left:455px;top:311px;color:#320c02"><span class="k9">2</span><span class="k9">2</span><span class="k9 o">1</span><span class="k9">0</span><span class="k9">8</span></div><div class="t co" style="left:530px;top:311px;color:#320c02"><span class="k9">9</span><span class="k9">9</span><span class="k9">7</span></div><div class="t co" style="left:602px;top:311px;color:#320c02"><span class="k9">4</span><span class="k9">6</span></div><div class="t co" style="left:638px;top:311px;color:#320c02"><span class="k9">4</span><span class="k9">5</span><span class="k4">.</span><span class="k9">0</span><span class="k9">9</span><span class="k9">7</span></div><div class="t co" style="left:701px;top:311px;color:#320c02"><span class="k9">2</span><span class="k9">0</span><span class="k4">.</span><span class="k9">8</span><span class="k9">0</span><span class="k9">7</span></div><div class="t b" style="left:14px;top:331px"><span class="k9">6</span><span class="k9">3</span></div><div class="t cb" style="left:46px;top:331px;color:#08203f"><span class="k11">S</span><span class="k9">o</span><span class="k9">u</span><span class="k4">t</span><span class="k9">h</span><span class="k4">&nbsp;</span><span class="k12">C</span><span class="k9">a</span><span class="k5">r</span><span class="k9">o</span><span class="k4">l</span><span class="k4">i</span><span class="k9">n</span><span class="k9">a</span></div><div class="t cb" style="left:300px;top:331px;color:#08203f"><span class="k9">L</span><span class="k9">e</span><span class="k9">e</span><span class="k4">&nbsp;</span><span class="k12">C</span><span class="k9">o</span><span class="k9">u</span><span class="k9">n</span><span class="k4">t</span><span class="k8">y</span></div><div class="t cb" style="left:403px;top:331px;color:#08203f"><span class="k12">D</span></div><div class="t cb" style="left:455px;top:331px;color:#08203f"><span class="k9 o">1</span><span class="k9">6</span><span class="k9">8</span><span class="k9">2</span><span class="k9">8</span></div><div class="t cb" style="left:530px;top:331px;color:#08203f"><span class="k9">7</span><span class="k9 o">1</span><span class="k9">9</span></div><div class="t cb" style="left:602px;top:331px;color:#08203f"><span class="k9">3</span><span class="k9">5</span></div><div class="t cb" style="left:638px;top:331px;color:#08203f"><span class="k9">4</span><span class="k9">2</span><span class="k4">.</span><span class="k9">7</span><span class="k9">2</span><span class="k9">6</span></div><div class="t cb" style="left:701px;top:331px;color:#08203f"><span class="k9">2</span><span class="k9">0</span><span class="k4">.</span><span class="k9">7</span><span class="k9">9</span><span class="k9">9</span></div><div class="t b" style="left:14px;top:351px"><span class="k9">6</span><span class="k9">4</span></div><div class="t cy" style="left:83px;top:351px;color:#1b1b05"><span class="k12">N</span><span class="k9">e</span><span class="k12">w</span><span class="k4">&nbsp;</span><span class="k11">Y</span><span class="k9">o</span><span class="k5">r</span><span class="k8">k</span></div><div class="t cy" style="left:259px;top:351px;color:#1b1b05"><span class="k12">R</span><span class="k9">o</span><span class="k8">c</span><span class="k8">k</span><span class="k4">l</span><span class="k9">a</span><span class="k9">n</span><span class="k9">d</span><span class="k4">&nbsp;</span><span class="k12">C</span><span class="k9">o</span><span class="k9">u</span><span class="k9">n</span><span class="k4">t</span><span class="k8">y</span></div><div class="t cy" style="left:390px;top:351px;color:#1b1b05"><span class="k12">D</span><span class="k4">&nbsp;</span><span class="k5">(</span><span class="k11">S</span><span class="k5">)</span></div><div class="t cy" style="left:446px;top:351px;color:#1b1b05"><span class="k9">3</span><span class="k9">2</span><span class="k9">5</span><span class="k9">7</span><span class="k9">8</span><span class="k9">9</span></div><div class="t cy" style="left:512px;top:351px;color:#1b1b05"><span class="k9 o">1</span><span class="k9">5</span><span class="k9">9</span><span class="k9">7</span><span class="k9">3</span></div><div class="t cy" style="left:593px;top:351px;color:#1b1b05"><span class="k9">6</span><span class="k9">7</span><span class="k9">7</span></div><div class="t cy" style="left:638px;top:351px;color:#1b1b05"><span class="k9">4</span><span class="k9">9</span><span class="k4">.</span><span class="k9">0</span><span class="k9">2</span><span class="k9">9</span></div><div class="t cy" style="left:701px;top:351px;color:#1b1b05"><span class="k9">2</span><span class="k9">0</span><span class="k4">.</span><span class="k9">7</span><span class="k9">8</span><span class="k9">0</span></div><div class="t b" style="left:14px;top:371px"><span class="k9">6</span><span class="k9">5</span></div><div class="t co" style="left:96px;top:371px;color:#320c02"><span class="k12">G</span><span class="k9">e</span><span class="k9">o</span><span class="k5">r</span><span class="k9">g</span><span class="k4">i</span><span class="k9">a</span></div><div class="t co" style="left:327px;top:371px;color:#320c02"><span class="k13">M</span><span class="k4">i</span><span class="k4">t</span><span class="k8">c</span><span class="k9">h</span><span class="k9">e</span><span class="k4">l</span><span class="k4">l</span></div><div class="t co" style="left:403px;top:371px;color:#320c02"><span class="k12">R</span></div><div class="t co" style="left:455px;top:371px;color:#320c02"><span class="k9">2</span><span class="k9 o">1</span><span class="k9">8</span><span class="k9">6</span><span class="k9">3</span></div><div class="t co" style="left:530px;top:371px;color:#320c02"><span class="k9">8</span><span class="k9">2</span><span class="k9">3</span></div><div class="t co" style="left:602px;top:371px;color:#320c02"><span class="k9">4</span><span class="k9">5</span></div><div class="t co" style="left:638px;top:371px;color:#320c02"><span class="k9">3</span><span class="k9">7</span><span class="k4">.</span><span class="k9">6</span><span class="k9">4</span><span class="k9">4</span></div><div class="t co" style="left:701px;top:371px;color:#320c02"><span class="k9">2</span><span class="k9">0</span><span class="k4">.</span><span class="k9">5</span><span class="k9">8</span><span class="k9">3</span></div><div class="t b" style="left:14px;top:391px"><span class="k9">6</span><span class="k9">6</span></div><div class="t co" style="left:89px;top:391px;color:#320c02"><span class="k11">A</span><span class="k4">l</span><span class="k9">a</span><span class="k9">b</span><span class="k9">a</span><span class="k13">m</span><span class="k9">a</span></div><div class="t co" style="left:285px;top:391px;color:#320c02"><span class="k11">B</span><span class="k9">u</span><span class="k4">t</span><span class="k4">l</span><span class="k9">e</span><span class="k5">r</span><span class="k4">&nbsp;</span><span class="k12">C</span><span class="k9">o</span><span class="k9">u</span><span class="k9">n</span><span class="k4">t</span><span class="k8">y</span></div><div class="t co" style="left:403px;top:391px;color:#320c02"><span class="k12">R</span></div><div class="t co" style="left:455px;top:391px;color:#320c02"><span class="k9 o">1</span><span class="k9">9</span><span class="k9">4</span><span class="k9">4</span><span class="k9">8</span></div><div class="t co" style="left:530px;top:391px;color:#320c02"><span class="k9">9</span><span class="k9">2</span><span class="k9">4</span></div><div class="t co" style="left:602px;top:391px;color:#320c02"><span class="k9">4</span><span class="k9">0</span></div><div class="t co" style="left:638px;top:391px;color:#320c02"><span class="k9">4</span><span class="k9">7</span><span class="k4">.</span><span class="k9">5</span><span class="k9 o">1</span><span class="k9 o">1</span></div><div class="t co" style="left:701px;top:391px;color:#320c02"><span class="k9">2</span><span class="k9">0</span><span class="k4">.</span><span class="k9">5</span><span class="k9">6</span><span class="k9">8</span></div><div class="t b" style="left:14px;top:411px"><span class="k9">6</span><span class="k9">7</span></div><div class="t cb" style="left:86px;top:411px;color:#08203f"><span class="k11">A</span><span class="k5">r</span><span class="k8">k</span><span class="k9">a</span><span class="k9">n</span><span class="k8">s</span><span class="k9">a</span><span class="k8">s</span></div><div class="t cb" style="left:300px;top:411px;color:#08203f"><span class="k9">L</span><span class="k9">e</span><span class="k9">e</span><span class="k4">&nbsp;</span><span class="k12">C</span><span class="k9">o</span><span class="k9">u</span><span class="k9">n</span><span class="k4">t</span><span class="k8">y</span></div><div class="t cb" style="left:403px;top:411px;color:#08203f"><span class="k12">D</span></div><div class="t cb" style="left:464px;top:411px;color:#08203f"><span class="k9">8</span><span class="k9">8</span><span class="k9">5</span><span class="k9">7</span></div><div class="t cb" style="left:521px;top:411px;color:#08203f"><span class="k9 o">1</span><span class="k9">0</span><span class="k9">7</span><span class="k9">9</span></div><div class="t cb" style="left:602px;top:411px;color:#08203f"><span class="k9 o">1</span><span class="k9">8</span></div><div class="t cb" style="left:629px;top:411px;color:#08203f"><span class="k9 o">1</span><span class="k9">2</span><span class="k9 o">1</span><span class="k4">.</span><span class="k9">8</span><span class="k9">2</span><span class="k9">5</span></div><div class="t cb" style="left:701px;top:411px;color:#08203f"><span class="k9">2</span><span class="k9">0</span><span class="k4">.</span><span class="k9">3</span><span class="k9">2</span><span class="k9">3</span></div><div class="t b" style="left:14px;top:431px"><span class="k9">6</span><span class="k9">8</span></div><div class="t co" style="left:109px;top:431px;color:#320c02"><span class="k10">T</span><span class="k9">e</span><span class="k8">x</span><span class="k9">a</span><span class="k8">s</span></div><div class="t co" style="left:268px;top:431px;color:#320c02"><span class="k12">C</span><span class="k5">r</span><span class="k9">o</span><span class="k8">c</span><span class="k8">k</span><span class="k9">e</span><span class="k4">t</span><span class="k4">t</span><span class="k4">&nbsp;</span><span class="k12">C</span><span class="k9">o</span><span class="k9">u</span><span class="k9">n</span><span class="k4">t</span><span class="k8">y</span></div><div class="t co" style="left:403px;top:431px;color:#320c02"><span class="k12">R</span></div><div class="t co" style="left:464px;top:431px;color:#320c02"><span class="k9">3</span><span class="k9">4</span><span class="k9">6</span><span class="k9">4</span></div><div class="t co" style="left:530px;top:431px;color:#320c02"><span class="k9 o">1</span><span class="k9">6</span><span class="k9">4</span></div><div class="t co" style="left:611px;top:431px;color:#320c02"><span class="k9">7</span></div><div class="t co" style="left:638px;top:431px;color:#320c02"><span class="k9">4</span><span class="k9">7</span><span class="k4">.</span><span class="k9">3</span><span class="k9">4</span><span class="k9">4</span></div><div class="t co" style="left:701px;top:431px;color:#320c02"><span class="k9">2</span><span class="k9">0</span><span class="k4">.</span><span class="k9">2</span><span class="k9">0</span><span class="k9">8</span></div><div class="t b" style="left:14px;top:451px"><span class="k9">6</span><span class="k9">9</span></div><div class="t co" style="left:109px;top:451px;color:#320c02"><span class="k10">T</span><span class="k9">e</span><span class="k8">x</span><span class="k9">a</span><span class="k8">s</span></div><div class="t co" style="left:271px;top:451px;color:#320c02"><span class="k12">R</span><span class="k9">e</span><span class="k4">f</span><span class="k9">u</span><span class="k9">g</span><span class="k4">i</span><span class="k9">o</span><span class="k4">&nbsp;</span><span class="k12">C</span><span class="k9">o</span><span class="k9">u</span><span class="k9">n</span><span class="k4">t</span><span class="k8">y</span></div><div class="t co" style="left:403px;top:451px;color:#320c02"><span class="k12">R</span></div><div class="t co" style="left:464px;top:451px;color:#320c02"><span class="k9">6</span><span class="k9">9</span><span class="k9">4</span><span class="k9">8</span></div><div class="t co" style="left:530px;top:451px;color:#320c02"><span class="k9">3</span><span class="k9 o">1</span><span class="k9">0</span></div><div class="t co" style="left:602px;top:451px;color:#320c02"><span class="k9 o">1</span><span class="k9">4</span></div><div class="t co" style="left:638px;top:451px;color:#320c02"><span class="k9">4</span><span class="k9">4</span><span class="k4">.</span><span class="k9">6</span><span class="k9 o">1</span><span class="k9">7</span></div><div class="t co" style="left:701px;top:451px;color:#320c02"><span class="k9">2</span><span class="k9">0</span><span class="k4">.</span><span class="k9 o">1</span><span class="k9">5</span><span class="k9">0</span></div><div class="t b" style="left:14px;top:471px"><span class="k9">7</span><span class="k9">0</span></div><div class="t co" style="left:74px;top:471px;color:#320c02"><span class="k13">M</span><span class="k4">i</span><span class="k8">s</span><span class="k8">s</span><span class="k4">i</span><span class="k8">s</span><span class="k8">s</span><span class="k4">i</span><span class="k9">p</span><span class="k9">p</span><span class="k4">i</span></div><div class="t co" style="left:243px;top:471px;color:#320c02"><span class="k10">T</span><span class="k4">i</span><span class="k8">s</span><span class="k9">h</span><span class="k9">o</span><span class="k13">m</span><span class="k4">i</span><span class="k9">n</span><span class="k9">g</span><span class="k9">o</span><span class="k4">&nbsp;</span><span class="k12">C</span><span class="k9">o</span><span class="k9">u</span><span class="k9">n</span><span class="k4">t</span><span class="k8">y</span></div><div class="t co" style="left:403px;top:471px;color:#320c02"><span class="k12">R</span></div><div class="t co" style="left:455px;top:471px;color:#320c02"><span class="k9 o">1</span><span class="k9">9</span><span class="k9">3</span><span class="k9">8</span><span class="k9">3</span></div><div class="t co" style="left:530px;top:471px;color:#320c02"><span class="k9">7</span><span class="k9">2</span><span class="k9 o">1</span></div><div class="t co" style="left:602px;top:471px;color:#320c02"><span class="k9">3</span><span class="k9">9</span></div><div class="t co" style="left:638px;top:471px;color:#320c02"><span class="k9">3</span><span class="k9">7</span><span class="k4">.</span><span class="k9 o">1</span><span class="k9">9</span><span class="k9">8</span></div><div class="t co" style="left:701px;top:471px;color:#320c02"><span class="k9">2</span><span class="k9">0</span><span class="k4">.</span><span class="k9 o">1</span><span class="k9">2</span><span class="k9 o">1</span></div><div class="t b" style="left:14px;top:491px"><span class="k9">7</span><span class="k9 o">1</span></div><div class="t co" style="left:96px;top:491px;color:#320c02"><span class="k12">G</span><span class="k9">e</span><span class="k9">o</span><span class="k5">r</span><span class="k9">g</span><span class="k4">i</span><span class="k9">a</span></div><div class="t co" style="left:312px;top:491px;color:#320c02"><span class="k15">W</span><span class="k4">i</span><span class="k4">l</span><span class="k8">k</span><span class="k4">i</span><span class="k9">n</span><span class="k8">s</span><span class="k9">o</span><span class="k9">n</span></div><div class="t co" style="left:403px;top:491px;color:#320c02"><span class="k12">R</span></div><div class="t co" style="left:464px;top:491px;color:#320c02"><span class="k9">8</span><span class="k9">9</span><span class="k9">5</span><span class="k9">4</span></div><div class="t co" style="left:530px;top:491px;color:#320c02"><span class="k9">3</span><span class="k9">4</span><span class="k9">5</span></div><div class="t co" style="left:602px;top:491px;color:#320c02"><span class="k9 o">1</span><span class="k9">8</span></div><div class="t co" style="left:638px;top:491px;color:#320c02"><span class="k9">3</span><span class="k9">8</span><span class="k4">.</span><span class="k9">5</span><span class="k9">3</span><span class="k9">0</span></div><div class="t co" style="left:701px;top:491px;color:#320c02"><span class="k9">2</span><span class="k9">0</span><span class="k4">.</span><span class="k9 o">1</span><span class="k9">0</span><span class="k9">3</span></div><div class="t b" style="left:14px;top:511px"><span class="k9">7</span><span class="k9">2</span></div><div class="t cb" style="left:109px;top:511px;color:#08203f"><span class="k10">T</span><span class="k9">e</span><span class="k8">x</span><span class="k9">a</span><span class="k8">s</span></div><div class="t cb" style="left:271px;top:511px;color:#08203f"><span class="k12">H</span><span class="k4">i</span><span class="k9">d</span><span class="k9">a</span><span class="k4">l</span><span class="k9">g</span><span class="k9">o</span><span class="k4">&nbsp;</span><span class="k12">C</span><span class="k9">o</span><span class="k9">u</span><span class="k9">n</span><span class="k4">t</span><span class="k8">y</span></div><div class="t cb" style="left:403px;top:511px;color:#08203f"><span class="k12">D</span></div><div class="t cb" style="left:446px;top:511px;color:#08203f"><span class="k9">8</span><span class="k9">6</span><span class="k9">8</span><span class="k9">7</span><span class="k9">0</span><span class="k9">7</span></div><div class="t cb" style="left:512px;top:511px;color:#08203f"><span class="k9">3</span><span class="k9">2</span><span class="k9">4</span><span class="k9">0</span><span class="k9">6</span></div><div class="t cb" style="left:584px;top:511px;color:#08203f"><span class="k9 o">1</span><span class="k9">7</span><span class="k9">4</span><span class="k9">0</span></div><div class="t cb" style="left:638px;top:511px;color:#08203f"><span class="k9">3</span><span class="k9">7</span><span class="k4">.</span><span class="k9">3</span><span class="k9">0</span><span class="k9">4</span></div><div class="t cb" style="left:701px;top:511px;color:#08203f"><span class="k9">2</span><span class="k9">0</span><span class="k4">.</span><span class="k9">0</span><span class="k9">3</span><span class="k9">0</span></div><div class="t b" style="left:14px;top:531px"><span class="k9">7</span><span class="k9">3</span></div><div class="t co" style="left:83px;top:531px;color:#320c02"><span class="k9">L</span><span class="k9">o</span><span class="k9">u</span><span class="k4">i</span><span class="k8">s</span><span class="k4">i</span><span class="k9">a</span><span class="k9">n</span><span class="k9">a</span></div><div class="t co" style="left:274px;top:531px;color:#320c02"><span class="k10">F</span><span class="k5">r</span><span class="k9">a</span><span class="k9">n</span><span class="k8">k</span><span class="k4">l</span><span class="k4">i</span><span class="k9">n</span><span class="k4">&nbsp;</span><span class="k11">P</span><span class="k9">a</span><span class="k5">r</span><span class="k4">i</span><span class="k8">s</span><span class="k9">h</span></div><div class="t co" style="left:403px;top:531px;color:#320c02"><span class="k12">R</span></div><div class="t co" style="left:455px;top:531px;color:#320c02"><span class="k9">2</span><span class="k9">0</span><span class="k9">0</span><span class="k9 o">1</span><span class="k9">5</span></div><div class="t co" style="left:521px;top:531px;color:#320c02"><span class="k9 o">1</span><span class="k9">2</span><span class="k9">2</span><span class="k9">8</span></div><div class="t co" style="left:602px;top:531px;color:#320c02"><span class="k9">4</span><span class="k9">0</span></div><div class="t co" style="left:638px;top:531px;color:#320c02"><span class="k9">6</span><span class="k9 o">1</span><span class="k4">.</span><span class="k9">3</span><span class="k9">5</span><span class="k9">4</span></div><div class="t co" style="left:701px;top:531px;color:#320c02"><span class="k9 o">1</span><span class="k9">9</span><span class="k4">.</span><span class="k9">9</span><span class="k9">8</span><span class="k9">5</span></div><div class="t b" style="left:14px;top:551px"><span class="k9">7</span><span class="k9">4</span></div><div class="t co" style="left:74px;top:551px;color:#320c02"><span class="k13">M</span><span class="k4">i</span><span class="k8">s</span><span class="k8">s</span><span class="k4">i</span><span class="k8">s</span><span class="k8">s</span><span class="k4">i</span><span class="k9">p</span><span class="k9">p</span><span class="k4">i</span></div><div class="t co" style="left:273px;top:551px;color:#320c02"><span class="k13">M</span><span class="k9">o</span><span class="k9">n</span><span class="k5">r</span><span class="k9">o</span><span class="k9">e</span><span class="k4">&nbsp;</span><span class="k12">C</span><span class="k9">o</span><span class="k9">u</span><span class="k9">n</span><span class="k4">t</span><span class="k8">y</span></div><div class="t co" style="left:403px;top:551px;color:#320c02"><span class="k12">R</span></div><div class="t co" style="left:455px;top:551px;color:#320c02"><span class="k9">3</span><span class="k9">5</span><span class="k9">2</span><span class="k9">5</span><span class="k9">2</span></div><div class="t co" style="left:521px;top:551px;color:#320c02"><span class="k9 o">1</span><span class="k9">2</span><span class="k9">8</span><span class="k9">3</span></div><div class="t co" style="left:602px;top:551px;color:#320c02"><span class="k9">7</span><span class="k9">0</span></div><div class="t co" style="left:638px;top:551px;color:#320c02"><span class="k9">3</span><span class="k9">6</span><span class="k4">.</span><span class="k9">3</span><span class="k9">9</span><span class="k9">5</span></div><div class="t co" style="left:701px;top:551px;color:#320c02"><span class="k9 o">1</span><span class="k9">9</span><span class="k4">.</span><span class="k9">8</span><span class="k9">5</span><span class="k9">7</span></div><div class="t b" style="left:14px;top:571px"><span class="k9">7</span><span class="k9">5</span></div><div class="t cy" style="left:46px;top:571px;color:#1b1b05"><span class="k11">S</span><span class="k9">o</span><span class="k9">u</span><span class="k4">t</span><span class="k9">h</span><span class="k4">&nbsp;</span><span class="k12">C</span><span class="k9">a</span><span class="k5">r</span><span class="k9">o</span><span class="k4">l</span><span class="k4">i</span><span class="k9">n</span><span class="k9">a</span></div><div class="t cy" style="left:252px;top:571px;color:#1b1b05"><span class="k12">C</span><span class="k4">l</span><span class="k9">a</span><span class="k5">r</span><span class="k9">e</span><span class="k9">n</span><span class="k9">d</span><span class="k9">o</span><span class="k9">n</span><span class="k4">&nbsp;</span><span class="k12">C</span><span class="k9">o</span><span class="k9">u</span><span class="k9">n</span><span class="k4">t</span><span class="k8">y</span></div><div class="t cy" style="left:390px;top:571px;color:#1b1b05"><span class="k12">D</span><span class="k4">&nbsp;</span><span class="k5">(</span><span class="k11">S</span><span class="k5">)</span></div><div class="t cy" style="left:455px;top:571px;color:#1b1b05"><span class="k9">3</span><span class="k9">3</span><span class="k9">7</span><span class="k9">4</span><span class="k9">5</span></div><div class="t cy" style="left:521px;top:571px;color:#1b1b05"><span class="k9 o">1</span><span class="k9 o">1</span><span class="k9 o">1</span><span class="k9">2</span></div><div class="t cy" style="left:602px;top:571px;color:#1b1b05"><span class="k9">6</span><span class="k9">7</span></div><div class="t cy" style="left:638px;top:571px;color:#1b1b05"><span class="k9">3</span><span class="k9">2</span><span class="k4">.</span><span class="k9">9</span><span class="k9">5</span><span class="k9">3</span></div><div class="t cy" style="left:701px;top:571px;color:#1b1b05"><span class="k9 o">1</span><span class="k9">9</span><span class="k4">.</span><span class="k9">8</span><span class="k9">5</span><span class="k9">5</span></div><div class="t b" style="left:14px;top:591px"><span class="k9">7</span><span class="k9">6</span></div><div class="t co" style="left:109px;top:591px;color:#320c02"><span class="k10">T</span><span class="k9">e</span><span class="k8">x</span><span class="k9">a</span><span class="k8">s</span></div><div class="t co" style="left:279px;top:591px;color:#320c02"><span class="k12">D</span><span class="k9">e</span><span class="k15">W</span><span class="k4">i</span><span class="k4">t</span><span class="k4">t</span><span class="k4">&nbsp;</span><span class="k12">C</span><span class="k9">o</span><span class="k9">u</span><span class="k9">n</span><span class="k4">t</span><span class="k8">y</span></div><div class="t co" style="left:403px;top:591px;color:#320c02"><span class="k12">R</span></div><div class="t co" style="left:455px;top:591px;color:#320c02"><span class="k9">2</span><span class="k9">0</span><span class="k9 o">1</span><span class="k9">6</span><span class="k9">0</span></div><div class="t co" style="left:530px;top:591px;color:#320c02"><span class="k9">9</span><span class="k9">9</span><span class="k9">6</span></div><div class="t co" style="left:602px;top:591px;color:#320c02"><span class="k9">4</span><span class="k9">0</span></div><div class="t co" style="left:638px;top:591px;color:#320c02"><span class="k9">4</span><span class="k9">9</span><span class="k4">.</span><span class="k9">4</span><span class="k9">0</span><span class="k9">5</span></div><div class="t co" style="left:701px;top:591px;color:#320c02"><span class="k9 o">1</span><span class="k9">9</span><span class="k4">.</span><span class="k9">8</span><span class="k9">4</span><span class="k9 o">1</span></div><div class="t b" style="left:14px;top:611px"><span class="k9">7</span><span class="k9">7</span></div><div class="t co" style="left:96px;top:611px;color:#320c02"><span class="k12">G</span><span class="k9">e</span><span class="k9">o</span><span class="k5">r</span><span class="k9">g</span><span class="k4">i</span><span class="k9">a</span></div><div class="t co" style="left:329px;top:611px;color:#320c02"><span class="k11">P</span><span class="k9">u</span><span class="k4">l</span><span class="k9">a</span><span class="k8">s</span><span class="k8">k</span><span class="k4">i</span></div><div class="t co" style="left:403px;top:611px;color:#320c02"><span class="k12">R</span></div><div class="t co" style="left:455px;top:611px;color:#320c02"><span class="k9 o">1</span><span class="k9 o">1</span><span class="k9 o">1</span><span class="k9">3</span><span class="k9">7</span></div><div class="t co" style="left:530px;top:611px;color:#320c02"><span class="k9">3</span><span class="k9 o">1</span><span class="k9">8</span></div><div class="t co" style="left:602px;top:611px;color:#320c02"><span class="k9">2</span><span class="k9">2</span></div><div class="t co" style="left:638px;top:611px;color:#320c02"><span class="k9">2</span><span class="k9">8</span><span class="k4">.</span><span class="k9">5</span><span class="k9">5</span><span class="k9">3</span></div><div class="t co" style="left:701px;top:611px;color:#320c02"><span class="k9 o">1</span><span class="k9">9</span><span class="k4">.</span><span class="k9">7</span><span class="k9">5</span><span class="k9">4</span></div><div class="t b" style="left:14px;top:631px"><span class="k9">7</span><span class="k9">8</span></div><div class="t cb" style="left:83px;top:631px;color:#08203f"><span class="k12">N</span><span class="k9">e</span><span class="k12">w</span><span class="k4">&nbsp;</span><span class="k11">Y</span><span class="k9">o</span><span class="k5">r</span><span class="k8">k</span></div><div class="t cb i r" style="left:156px;width:226.00px;top:631px;color:#08203f">New York County (Manhattan)</div><div class="t cb" style="left:403px;top:631px;color:#08203f"><span class="k12">D</span></div><div class="t cb" style="left:437px;top:631px;color:#08203f"><span class="k9 o">1</span><span class="k9">6</span><span class="k9">2</span><span class="k9">8</span><span class="k9">7</span><span class="k9">0</span><span class="k9">6</span></div><div class="t cb" style="left:512px;top:631px;color:#08203f"><span class="k9">3</span><span class="k9">3</span><span class="k9">7</span><span class="k9">9</span><span class="k9 o">1</span></div><div class="t cb" style="left:584px;top:631px;color:#08203f"><span class="k9">3</span><span class="k9 o">1</span><span class="k9">8</span><span class="k9">2</span></div><div class="t cb" style="left:638px;top:631px;color:#08203f"><span class="k9">2</span><span class="k9">0</span><span class="k4">.</span><span class="k9">7</span><span class="k9">4</span><span class="k9">7</span></div><div class="t cb" style="left:701px;top:631px;color:#08203f"><span class="k9 o">1</span><span class="k9">9</span><span class="k4">.</span><span class="k9">5</span><span class="k9">3</span><span class="k9">7</span></div><div class="t b" style="left:14px;top:651px"><span class="k9">7</span><span class="k9">9</span></div><div class="t co" style="left:83px;top:651px;color:#320c02"><span class="k9">L</span><span class="k9">o</span><span class="k9">u</span><span class="k4">i</span><span class="k8">s</span><span class="k4">i</span><span class="k9">a</span><span class="k9">n</span><span class="k9">a</span></div><div class="t co" style="left:295px;top:651px;color:#320c02"><span class="k11">A</span><span class="k4">l</span><span class="k4">l</span><span class="k9">e</span><span class="k9">n</span><span class="k4">&nbsp;</span><span class="k11">P</span><span class="k9">a</span><span class="k5">r</span><span class="k4">i</span><span class="k8">s</span><span class="k9">h</span></div><div class="t co" style="left:403px;top:651px;color:#320c02"><span class="k12">R</span></div><div class="t co" style="left:455px;top:651px;color:#320c02"><span class="k9">2</span><span class="k9">5</span><span class="k9">6</span><span class="k9">2</span><span class="k9">7</span></div><div class="t co" style="left:521px;top:651px;color:#320c02"><span class="k9 o">1</span><span class="k9">6</span><span class="k9">7</span><span class="k9">8</span></div><div class="t co" style="left:602px;top:651px;color:#320c02"><span class="k9">5</span><span class="k9">0</span></div><div class="t co" style="left:638px;top:651px;color:#320c02"><span class="k9">6</span><span class="k9">5</span><span class="k4">.</span><span class="k9">4</span><span class="k9">7</span><span class="k9">8</span></div><div class="t co" style="left:701px;top:651px;color:#320c02"><span class="k9 o">1</span><span class="k9">9</span><span class="k4">.</span><span class="k9">5</span><span class="k9 o">1</span><span class="k9 o">1</span></div><div class="t b" style="left:14px;top:671px"><span class="k9">8</span><span class="k9">0</span></div><div class="t cb" style="left:74px;top:671px;color:#08203f"><span class="k13">M</span><span class="k4">i</span><span class="k8">s</span><span class="k8">s</span><span class="k4">i</span><span class="k8">s</span><span class="k8">s</span><span class="k4">i</span><span class="k9">p</span><span class="k9">p</span><span class="k4">i</span></div><div class="t cb" style="left:242px;top:671px;color:#08203f"><span class="k15">W</span><span class="k9">a</span><span class="k8">s</span><span class="k9">h</span><span class="k4">i</span><span class="k9">n</span><span class="k9">g</span><span class="k4">t</span><span class="k9">o</span><span class="k9">n</span><span class="k4">&nbsp;</span><span class="k12">C</span><span class="k9">o</span><span class="k9">u</span><span class="k9">n</span><span class="k4">t</span><span class="k8">y</span></div><div class="t cb" style="left:403px;top:671px;color:#08203f"><span class="k12">D</span></div><div class="t cb" style="left:455px;top:671px;color:#08203f"><span class="k9">4</span><span class="k9">3</span><span class="k9">9</span><span class="k9">0</span><span class="k9">9</span></div><div class="t cb" style="left:521px;top:671px;color:#08203f"><span class="k9">2</span><span class="k9">3</span><span class="k9 o">1</span><span class="k9">2</span></div><div class="t cb" style="left:602px;top:671px;color:#08203f"><span class="k9">8</span><span class="k9">4</span></div><div class="t cb" style="left:638px;top:671px;color:#08203f"><span class="k9">5</span><span class="k9">2</span><span class="k4">.</span><span class="k9">6</span><span class="k9">5</span><span class="k9">4</span></div><div class="t cb" style="left:701px;top:671px;color:#08203f"><span class="k9 o">1</span><span class="k9">9</span><span class="k4">.</span><span class="k9 o">1</span><span class="k9">3</span><span class="k9">0</span></div><div class="t b" style="left:14px;top:691px"><span class="k9">8</span><span class="k9 o">1</span></div><div class="t cb" style="left:89px;top:691px;color:#08203f"><span class="k11">A</span><span class="k4">l</span><span class="k9">a</span><span class="k9">b</span><span class="k9">a</span><span class="k13">m</span><span class="k9">a</span></div><div class="t cb" style="left:293px;top:691px;color:#08203f"><span class="k12">H</span><span class="k9">a</span><span class="k4">l</span><span class="k9">e</span><span class="k4">&nbsp;</span><span class="k12">C</span><span class="k9">o</span><span class="k9">u</span><span class="k9">n</span><span class="k4">t</span><span class="k8">y</span></div><div class="t cb" style="left:403px;top:691px;color:#08203f"><span class="k12">D</span></div><div class="t cb" style="left:455px;top:691px;color:#08203f"><span class="k9 o">1</span><span class="k9">4</span><span class="k9">6</span><span class="k9">5</span><span class="k9 o">1</span></div><div class="t cb" style="left:530px;top:691px;color:#08203f"><span class="k9">6</span><span class="k9">6</span><span class="k9">5</span></div><div class="t cb" style="left:602px;top:691px;color:#08203f"><span class="k9">2</span><span class="k9">8</span></div><div class="t cb" style="left:638px;top:691px;color:#08203f"><span class="k9">4</span><span class="k9">5</span><span class="k4">.</span><span class="k9">3</span><span class="k9">8</span><span class="k9">9</span></div><div class="t cb" style="left:701px;top:691px;color:#08203f"><span class="k9 o">1</span><span class="k9">9</span><span class="k4">.</span><span class="k9 o">1</span><span class="k9 o">1</span><span class="k9 o">1</span></div><div class="t b" style="left:14px;top:711px"><span class="k9">8</span><span class="k9">2</span></div><div class="t co" style="left:96px;top:711px;color:#320c02"><span class="k12">G</span><span class="k9">e</span><span class="k9">o</span><span class="k5">r</span><span class="k9">g</span><span class="k4">i</span><span class="k9">a</span></div><div class="t co" style="left:324px;top:711px;color:#320c02"><span class="k10">T</span><span class="k9">o</span><span class="k9">o</span><span class="k13">m</span><span class="k9">b</span><span class="k8">s</span></div><div class="t co" style="left:403px;top:711px;color:#320c02"><span class="k12">R</span></div><div class="t co" style="left:455px;top:711px;color:#320c02"><span class="k9">2</span><span class="k9">6</span><span class="k9">8</span><span class="k9">3</span><span class="k9">0</span></div><div class="t co" style="left:521px;top:711px;color:#320c02"><span class="k9 o">1</span><span class="k9">3</span><span class="k9">5</span><span class="k9">9</span></div><div class="t co" style="left:602px;top:711px;color:#320c02"><span class="k9">5</span><span class="k9 o">1</span></div><div class="t co" style="left:638px;top:711px;color:#320c02"><span class="k9">5</span><span class="k9">0</span><span class="k4">.</span><span class="k9">6</span><span class="k9">5</span><span class="k9">2</span></div><div class="t co" style="left:701px;top:711px;color:#320c02"><span class="k9 o">1</span><span class="k9">9</span><span class="k4">.</span><span class="k9">0</span><span class="k9">0</span><span class="k9">9</span></div><div class="t b" style="left:14px;top:731px"><span class="k9">8</span><span class="k9">3</span></div><div class="t co" style="left:119px;top:731px;color:#320c02"><span class="k4">I</span><span class="k9">o</span><span class="k12">w</span><span class="k9">a</span></div><div class="t co" style="left:286px;top:731px;color:#320c02"><span class="k10">T</span><span class="k9">a</span><span class="k13">m</span><span class="k9">a</span><span class="k4">&nbsp;</span><span class="k12">C</span><span class="k9">o</span><span class="k9">u</span><span class="k9">n</span><span class="k4">t</span><span class="k8">y</span></div><div class="t co" style="left:403px;top:731px;color:#320c02"><span class="k12">R</span></div><div class="t co" style="left:455px;top:731px;color:#320c02"><span class="k9 o">1</span><span class="k9">6</span><span class="k9">8</span><span class="k9">5</span><span class="k9">4</span></div><div class="t co" style="left:530px;top:731px;color:#320c02"><span class="k9">7</span><span class="k9">9</span><span class="k9 o">1</span></div><div class="t co" style="left:602px;top:731px;color:#320c02"><span class="k9">3</span><span class="k9">2</span></div><div class="t co" style="left:638px;top:731px;color:#320c02"><span class="k9">4</span><span class="k9">6</span><span class="k4">.</span><span class="k9">9</span><span class="k9">3</span><span class="k9">2</span></div><div class="t co" style="left:701px;top:731px;color:#320c02"><span class="k9 o">1</span><span class="k9">8</span><span class="k4">.</span><span class="k9">9</span><span class="k9">8</span><span class="k9">7</span></div><div class="t b" style="left:14px;top:751px"><span class="k9">8</span><span class="k9">4</span></div><div class="t co" style="left:119px;top:751px;color:#320c02"><span class="k12">U</span><span class="k4">t</span><span class="k9">a</span><span class="k9">h</span></div><div class="t co" style="left:259px;top:751px;color:#320c02"><span class="k11">S</span><span class="k9">a</span><span class="k9">n</span><span class="k4">&nbsp;</span><span class="k8">J</span><span class="k9">u</span><span class="k9">a</span><span class="k9">n</span><span class="k4">&nbsp;</span><span class="k12">C</span><span class="k9">o</span><span class="k9">u</span><span class="k9">n</span><span class="k4">t</span><span class="k8">y</span></div><div class="t co" style="left:403px;top:751px;color:#320c02"><span class="k12">R</span></div><div class="t co" style="left:451px;top:751px;color:#320c02"><span class="k9 o">1</span><span class="k9">5</span><span class="k4">,</span><span class="k9">2</span><span class="k9">8</span><span class="k9 o">1</span></div><div class="t co" style="left:530px;top:751px;color:#320c02"><span class="k9">7</span><span class="k9">0</span><span class="k9">4</span></div><div class="t co" style="left:602px;top:751px;color:#320c02"><span class="k9">2</span><span class="k9">9</span></div><div class="t co" style="left:638px;top:751px;color:#320c02"><span class="k9">4</span><span class="k9">6</span><span class="k4">.</span><span class="k9">0</span><span class="k9">7</span><span class="k9">0</span></div><div class="t co" style="left:701px;top:751px;color:#320c02"><span class="k9 o">1</span><span class="k9">8</span><span class="k4">.</span><span class="k9">9</span><span class="k9">7</span><span class="k9">8</span></div><div class="t b" style="left:14px;top:771px"><span class="k9">8</span><span class="k9">5</span></div><div class="t cb" style="left:83px;top:771px;color:#08203f"><span class="k9">L</span><span class="k9">o</span><span class="k9">u</span><span class="k4">i</span><span class="k8">s</span><span class="k4">i</span><span class="k9">a</span><span class="k9">n</span><span class="k9">a</span></div><div class="t cb" style="left:262px;top:771px;color:#08203f"><span class="k11">S</span><span class="k4">t</span><span class="k4">.</span><span class="k4">&nbsp;</span><span class="k8">J</span><span class="k9">a</span><span class="k13">m</span><span class="k9">e</span><span class="k8">s</span><span class="k4">&nbsp;</span><span class="k11">P</span><span class="k9">a</span><span class="k5">r</span><span class="k4">i</span><span class="k8">s</span><span class="k9">h</span></div><div class="t cb" style="left:403px;top:771px;color:#08203f"><span class="k12">D</span></div><div class="t cb" style="left:455px;top:771px;color:#08203f"><span class="k9">2</span><span class="k9 o">1</span><span class="k9">0</span><span class="k9">9</span><span class="k9">6</span></div><div class="t cb" style="left:530px;top:771px;color:#08203f"><span class="k9">8</span><span class="k9 o">1</span><span class="k9">0</span></div><div class="t cb" style="left:602px;top:771px;color:#08203f"><span class="k9">4</span><span class="k9">0</span></div><div class="t cb" style="left:638px;top:771px;color:#08203f"><span class="k9">3</span><span class="k9">8</span><span class="k4">.</span><span class="k9">3</span><span class="k9">9</span><span class="k9">6</span></div><div class="t cb" style="left:701px;top:771px;color:#08203f"><span class="k9 o">1</span><span class="k9">8</span><span class="k4">.</span><span class="k9">9</span><span class="k9">6</span><span class="k9 o">1</span></div><div class="t b" style="left:14px;top:791px"><span class="k9">8</span><span class="k9">6</span></div><div class="t cb" style="left:96px;top:791px;color:#08203f"><span class="k12">G</span><span class="k9">e</span><span class="k9">o</span><span class="k5">r</span><span class="k9">g</span><span class="k4">i</span><span class="k9">a</span></div><div class="t cb" style="left:317px;top:791px;color:#08203f"><span class="k8">J</span><span class="k9">e</span><span class="k4">f</span><span class="k4">f</span><span class="k9">e</span><span class="k5">r</span><span class="k8">s</span><span class="k9">o</span><span class="k9">n</span></div><div class="t cb" style="left:403px;top:791px;color:#08203f"><span class="k12">D</span></div><div class="t cb" style="left:455px;top:791px;color:#08203f"><span class="k9 o">1</span><span class="k9">5</span><span class="k9">3</span><span class="k9">6</span><span class="k9">2</span></div><div class="t cb" style="left:530px;top:791px;color:#08203f"><span class="k9">8</span><span class="k9 o">1</span><span class="k9">4</span></div><div class="t cb" style="left:602px;top:791px;color:#08203f"><span class="k9">2</span><span class="k9">9</span></div><div class="t cb" style="left:638px;top:791px;color:#08203f"><span class="k9">5</span><span class="k9">2</span><span class="k4">.</span><span class="k9">9</span><span class="k9">8</span><span class="k9">8</span></div><div class="t cb" style="left:701px;top:791px;color:#08203f"><span class="k9 o">1</span><span class="k9">8</span><span class="k4">.</span><span class="k9">8</span><span class="k9">7</span><span class="k9">8</span></div><div class="t b" style="left:14px;top:811px"><span class="k9">8</span><span class="k9">7</span></div><div class="t co" style="left:96px;top:811px;color:#320c02"><span class="k12">G</span><span class="k9">e</span><span class="k9">o</span><span class="k5">r</span><span class="k9">g</span><span class="k4">i</span><span class="k9">a</span></div><div class="t co" style="left:328px;top:811px;color:#320c02"><span class="k13">M</span><span class="k9">o</span><span class="k9">n</span><span class="k5">r</span><span class="k9">o</span><span class="k9">e</span></div><div class="t co" style="left:403px;top:811px;color:#320c02"><span class="k12">R</span></div><div class="t co" style="left:455px;top:811px;color:#320c02"><span class="k9">2</span><span class="k9">7</span><span class="k9">5</span><span class="k9">7</span><span class="k9">8</span></div><div class="t co" style="left:530px;top:811px;color:#320c02"><span class="k9">7</span><span class="k9">0</span><span class="k9">4</span></div><div class="t co" style="left:602px;top:811px;color:#320c02"><span class="k9">5</span><span class="k9">2</span></div><div class="t co" style="left:638px;top:811px;color:#320c02"><span class="k9">2</span><span class="k9">5</span><span class="k4">.</span><span class="k9">5</span><span class="k9">2</span><span class="k9">8</span></div><div class="t co" style="left:701px;top:811px;color:#320c02"><span class="k9 o">1</span><span class="k9">8</span><span class="k4">.</span><span class="k9">8</span><span class="k9">5</span><span class="k9">6</span></div><div class="t b" style="left:14px;top:831px"><span class="k9">8</span><span class="k9">8</span></div><div class="t cb" style="left:74px;top:831px;color:#08203f"><span class="k13">M</span><span class="k4">i</span><span class="k8">s</span><span class="k8">s</span><span class="k4">i</span><span class="k8">s</span><span class="k8">s</span><span class="k4">i</span><span class="k9">p</span><span class="k9">p</span><span class="k4">i</span></div><div class="t cb" style="left:255px;top:831px;color:#08203f"><span class="k11">S</span><span class="k9">u</span><span class="k9">n</span><span class="k4">f</span><span class="k4">l</span><span class="k9">o</span><span class="k12">w</span><span class="k9">e</span><span class="k5">r</span><span class="k4">&nbsp;</span><span class="k12">C</span><span class="k9">o</span><span class="k9">u</span><span class="k9">n</span><span class="k4">t</span><span class="k8">y</span></div><div class="t cb" style="left:403px;top:831px;color:#08203f"><span class="k12">D</span></div><div class="t cb" style="left:455px;top:831px;color:#08203f"><span class="k9">2</span><span class="k9">5</span><span class="k9 o">1</span><span class="k9 o">1</span><span class="k9">0</span></div><div class="t cb" style="left:521px;top:831px;color:#08203f"><span class="k9 o">1</span><span class="k9">5</span><span class="k9 o">1</span><span class="k9 o">1</span></div><div class="t cb" style="left:602px;top:831px;color:#08203f"><span class="k9">4</span><span class="k9">7</span></div><div class="t cb" style="left:638px;top:831px;color:#08203f"><span class="k9">6</span><span class="k9">0</span><span class="k4">.</span><span class="k9 o">1</span><span class="k9">7</span><span class="k9">5</span></div><div class="t cb" style="left:701px;top:831px;color:#08203f"><span class="k9 o">1</span><span class="k9">8</span><span class="k4">.</span><span class="k9">7</span><span class="k9 o">1</span><span class="k9">8</span></div><div class="t b" style="left:14px;top:851px"><span class="k9">8</span><span class="k9">9</span></div><div class="t cb" style="left:74px;top:851px;color:#08203f"><span class="k13">M</span><span class="k4">i</span><span class="k8">s</span><span class="k8">s</span><span class="k4">i</span><span class="k8">s</span><span class="k8">s</span><span class="k4">i</span><span class="k9">p</span><span class="k9">p</span><span class="k4">i</span></div><div class="t cb" style="left:245px;top:851px;color:#08203f"><span class="k12">H</span><span class="k9">u</span><span class="k13">m</span><span class="k9">p</span><span class="k9">h</span><span class="k5">r</span><span class="k9">e</span><span class="k8">y</span><span class="k8">s</span><span class="k4">&nbsp;</span><span class="k12">C</span><span class="k9">o</span><span class="k9">u</span><span class="k9">n</span><span class="k4">t</span><span class="k8">y</span></div><div class="t cb" style="left:403px;top:851px;color:#08203f"><span class="k12">D</span></div><div class="t cb" style="left:464px;top:851px;color:#08203f"><span class="k9">8</span><span class="k9">0</span><span class="k9">6</span><span class="k9">4</span></div><div class="t cb" style="left:530px;top:851px;color:#08203f"><span class="k9">3</span><span class="k9">8</span><span class="k9">0</span></div><div class="t cb" style="left:602px;top:851px;color:#08203f"><span class="k9 o">1</span><span class="k9">5</span></div><div class="t cb" style="left:638px;top:851px;color:#08203f"><span class="k9">4</span><span class="k9">7</span><span class="k4">.</span><span class="k9 o">1</span><span class="k9">2</span><span class="k9">3</span></div><div class="t cb" style="left:701px;top:851px;color:#08203f"><span class="k9 o">1</span><span class="k9">8</span><span class="k4">.</span><span class="k9">6</span><span class="k9">0</span><span class="k9 o">1</span></div><div class="t b" style="left:14px;top:871px"><span class="k9">9</span><span class="k9">0</span></div><div class="t co" style="left:96px;top:871px;color:#320c02"><span class="k12">G</span><span class="k9">e</span><span class="k9">o</span><span class="k5">r</span><span class="k9">g</span><span class="k4">i</span><span class="k9">a</span></div><div class="t co" style="left:325px;top:871px;color:#320c02"><span class="k12">C</span><span class="k9">a</span><span class="k9">n</span><span class="k9">d</span><span class="k4">l</span><span class="k9">e</span><span class="k5">r</span></div><div class="t co" style="left:403px;top:871px;color:#320c02"><span class="k12">R</span></div><div class="t co" style="left:455px;top:871px;color:#320c02"><span class="k9 o">1</span><span class="k9">0</span><span class="k9">8</span><span class="k9">0</span><span class="k9">3</span></div><div class="t co" style="left:530px;top:871px;color:#320c02"><span class="k9">4</span><span class="k9">7</span><span class="k9">4</span></div><div class="t co" style="left:602px;top:871px;color:#320c02"><span class="k9">2</span><span class="k9">0</span></div><div class="t co" style="left:638px;top:871px;color:#320c02"><span class="k9">4</span><span class="k9">3</span><span class="k4">.</span><span class="k9">8</span><span class="k9">7</span><span class="k9">7</span></div><div class="t co" style="left:701px;top:871px;color:#320c02"><span class="k9 o">1</span><span class="k9">8</span><span class="k4">.</span><span class="k9">5</span><span class="k9 o">1</span><span class="k9">3</span></div><div class="t b" style="left:14px;top:891px"><span class="k9">9</span><span class="k9 o">1</span></div><div class="t cb" style="left:89px;top:891px;color:#08203f"><span class="k11">A</span><span class="k4">l</span><span class="k9">a</span><span class="k9">b</span><span class="k9">a</span><span class="k13">m</span><span class="k9">a</span></div><div class="t cb" style="left:274px;top:891px;color:#08203f"><span class="k12">G</span><span class="k5">r</span><span class="k9">e</span><span class="k9">e</span><span class="k9">n</span><span class="k9">e</span><span class="k4">&nbsp;</span><span class="k12">C</span><span class="k9">o</span><span class="k9">u</span><span class="k9">n</span><span class="k4">t</span><span class="k8">y</span></div><div class="t cb" style="left:403px;top:891px;color:#08203f"><span class="k12">D</span></div><div class="t cb" style="left:464px;top:891px;color:#08203f"><span class="k9">8</span><span class="k9 o">1</span><span class="k9 o">1</span><span class="k9 o">1</span></div><div class="t cb" style="left:530px;top:891px;color:#08203f"><span class="k9">3</span><span class="k9">0</span><span class="k9">7</span></div><div class="t cb" style="left:602px;top:891px;color:#08203f"><span class="k9 o">1</span><span class="k9">5</span></div><div class="t cb" style="left:638px;top:891px;color:#08203f"><span class="k9">3</span><span class="k9">7</span><span class="k4">.</span><span class="k9">8</span><span class="k9">5</span><span class="k9">0</span></div><div class="t cb" style="left:701px;top:891px;color:#08203f"><span class="k9 o">1</span><span class="k9">8</span><span class="k4">.</span><span class="k9">4</span><span class="k9">9</span><span class="k9">3</span></div><div class="t b" style="left:14px;top:911px"><span class="k9">9</span><span class="k9">2</span></div><div class="t co" style="left:83px;top:911px;color:#320c02"><span class="k9">L</span><span class="k9">o</span><span class="k9">u</span><span class="k4">i</span><span class="k8">s</span><span class="k4">i</span><span class="k9">a</span><span class="k9">n</span><span class="k9">a</span></div><div class="t co" style="left:225px;top:911px;color:#320c02"><span class="k11">P</span><span class="k9">o</span><span class="k4">i</span><span class="k9">n</span><span class="k4">t</span><span class="k9">e</span><span class="k4">&nbsp;</span><span class="k12">C</span><span class="k9">o</span><span class="k9">u</span><span class="k9">p</span><span class="k9">e</span><span class="k9">e</span><span class="k4">&nbsp;</span><span class="k11">P</span><span class="k9">a</span><span class="k5">r</span><span class="k4">i</span><span class="k8">s</span><span class="k9">h</span></div><div class="t co" style="left:403px;top:911px;color:#320c02"><span class="k12">R</span></div><div class="t co" style="left:455px;top:911px;color:#320c02"><span class="k9">2</span><span class="k9 o">1</span><span class="k9">7</span><span class="k9">3</span><span class="k9">0</span></div><div class="t co" style="left:521px;top:911px;color:#320c02"><span class="k9 o">1</span><span class="k9">0</span><span class="k9">6</span><span class="k9">3</span></div><div class="t co" style="left:602px;top:911px;color:#320c02"><span class="k9">4</span><span class="k9">0</span></div><div class="t co" style="left:638px;top:911px;color:#320c02"><span class="k9">4</span><span class="k9">8</span><span class="k4">.</span><span class="k9">9</span><span class="k9 o">1</span><span class="k9">9</span></div><div class="t co" style="left:701px;top:911px;color:#320c02"><span class="k9 o">1</span><span class="k9">8</span><span class="k4">.</span><span class="k9">4</span><span class="k9">0</span><span class="k9">8</span></div><div class="t b" style="left:14px;top:931px"><span class="k9">9</span><span class="k9">3</span></div><div class="t co" style="left:109px;top:931px;color:#320c02"><span class="k10">T</span><span class="k9">e</span><span class="k8">x</span><span class="k9">a</span><span class="k8">s</span></div><div class="t co" style="left:222px;top:931px;color:#320c02"><span class="k11">S</span><span class="k9">a</span><span class="k9">n</span><span class="k4">&nbsp;</span><span class="k11">A</span><span class="k9">u</span><span class="k9">g</span><span class="k9">u</span><span class="k8">s</span><span class="k4">t</span><span class="k4">i</span><span class="k9">n</span><span class="k9">e</span><span class="k4">&nbsp;</span><span class="k12">C</span><span class="k9">o</span><span class="k9">u</span><span class="k9">n</span><span class="k4">t</span><span class="k8">y</span></div><div class="t co" style="left:403px;top:931px;color:#320c02"><span class="k12">R</span></div><div class="t co" style="left:464px;top:931px;color:#320c02"><span class="k9">8</span><span class="k9">2</span><span class="k9">3</span><span class="k9">7</span></div><div class="t co" style="left:530px;top:931px;color:#320c02"><span class="k9">2</span><span class="k9">0</span><span class="k9">7</span></div><div class="t co" style="left:602px;top:931px;color:#320c02"><span class="k9 o">1</span><span class="k9">5</span></div><div class="t co" style="left:638px;top:931px;color:#320c02"><span class="k9">2</span><span class="k9">5</span><span class="k4">.</span><span class="k9 o">1</span><span class="k9">3</span><span class="k9 o">1</span></div><div class="t co" style="left:701px;top:931px;color:#320c02"><span class="k9 o">1</span><span class="k9">8</span><span class="k4">.</span><span class="k9">2</span><span class="k9 o">1</span><span class="k9 o">1</span></div><div class="t b" style="left:14px;top:951px"><span class="k9">9</span><span class="k9">4</span></div><div class="t co" style="left:74px;top:951px;color:#320c02"><span class="k13">M</span><span class="k4">i</span><span class="k8">s</span><span class="k8">s</span><span class="k4">i</span><span class="k8">s</span><span class="k8">s</span><span class="k4">i</span><span class="k9">p</span><span class="k9">p</span><span class="k4">i</span></div><div class="t co" style="left:269px;top:951px;color:#320c02"><span class="k15">W</span><span class="k9">a</span><span class="k4">l</span><span class="k4">t</span><span class="k9">h</span><span class="k9">a</span><span class="k4">l</span><span class="k4">l</span><span class="k4">&nbsp;</span><span class="k12">C</span><span class="k9">o</span><span class="k9">u</span><span class="k9">n</span><span class="k4">t</span><span class="k8">y</span></div><div class="t co" style="left:403px;top:951px;color:#320c02"><span class="k12">R</span></div><div class="t co" style="left:455px;top:951px;color:#320c02"><span class="k9 o">1</span><span class="k9">4</span><span class="k9">2</span><span class="k9">8</span><span class="k9">6</span></div><div class="t co" style="left:530px;top:951px;color:#320c02"><span class="k9">6</span><span class="k9">0</span><span class="k9">5</span></div><div class="t co" style="left:602px;top:951px;color:#320c02"><span class="k9">2</span><span class="k9">6</span></div><div class="t co" style="left:638px;top:951px;color:#320c02"><span class="k9">4</span><span class="k9">2</span><span class="k4">.</span><span class="k9">3</span><span class="k9">4</span><span class="k9">9</span></div><div class="t co" style="left:701px;top:951px;color:#320c02"><span class="k9 o">1</span><span class="k9">8</span><span class="k4">.</span><span class="k9">2</span><span class="k9">0</span><span class="k9">0</span></div><div class="t b" style="left:14px;top:971px"><span class="k9">9</span><span class="k9">5</span></div><div class="t cb" style="left:84px;top:971px;color:#08203f"><span class="k12">C</span><span class="k9">a</span><span class="k4">l</span><span class="k4">i</span><span class="k4">f</span><span class="k9">o</span><span class="k5">r</span><span class="k9">n</span><span class="k4">i</span><span class="k9">a</span></div><div class="t cb" style="left:270px;top:971px;color:#08203f"><span class="k4">I</span><span class="k13">m</span><span class="k9">p</span><span class="k9">e</span><span class="k5">r</span><span class="k4">i</span><span class="k9">a</span><span class="k4">l</span><span class="k4">&nbsp;</span><span class="k12">C</span><span class="k9">o</span><span class="k9">u</span><span class="k9">n</span><span class="k4">t</span><span class="k8">y</span></div><div class="t cb" style="left:403px;top:971px;color:#08203f"><span class="k12">D</span></div><div class="t cb" style="left:446px;top:971px;color:#08203f"><span class="k9 o">1</span><span class="k9">8</span><span class="k9 o">1</span><span class="k9">2</span><span class="k9 o">1</span><span class="k9">5</span></div><div class="t cb" style="left:512px;top:971px;color:#08203f"><span class="k9 o">1</span><span class="k9">2</span><span class="k9">0</span><span class="k9">4</span><span class="k9">7</span></div><div class="t cb" style="left:593px;top:971px;color:#08203f"><span class="k9">3</span><span class="k9">2</span><span class="k9">6</span></div><div class="t cb" style="left:638px;top:971px;color:#08203f"><span class="k9">6</span><span class="k9">6</span><span class="k4">.</span><span class="k9">4</span><span class="k9">7</span><span class="k9">9</span></div><div class="t cb" style="left:701px;top:971px;color:#08203f"><span class="k9 o">1</span><span class="k9">7</span><span class="k4">.</span><span class="k9">9</span><span class="k9">9</span><span class="k9">0</span></div><div class="t b" style="left:14px;top:991px"><span class="k9">9</span><span class="k9">6</span></div><div class="t co" style="left:119px;top:991px;color:#320c02"><span class="k4">I</span><span class="k9">o</span><span class="k12">w</span><span class="k9">a</span></div><div class="t co" style="left:269px;top:991px;color:#320c02"><span class="k10">F</span><span class="k5">r</span><span class="k9">a</span><span class="k9">n</span><span class="k8">k</span><span class="k4">l</span><span class="k4">i</span><span class="k9">n</span><span class="k4">&nbsp;</span><span class="k12">C</span><span class="k9">o</span><span class="k9">u</span><span class="k9">n</span><span class="k4">t</span><span class="k8">y</span></div><div class="t co" style="left:403px;top:991px;color:#320c02"><span class="k12">R</span></div><div class="t co" style="left:455px;top:991px;color:#320c02"><span class="k9 o">1</span><span class="k9">0</span><span class="k9">0</span><span class="k9">7</span><span class="k9">0</span></div><div class="t co" style="left:530px;top:991px;color:#320c02"><span class="k9">3</span><span class="k9">5</span><span class="k9">5</span></div><div class="t co" style="left:602px;top:991px;color:#320c02"><span class="k9 o">1</span><span class="k9">8</span></div><div class="t co" style="left:638px;top:991px;color:#320c02"><span class="k9">3</span><span class="k9">5</span><span class="k4">.</span><span class="k9">2</span><span class="k9">5</span><span class="k9">3</span></div><div class="t co" style="left:701px;top:991px;color:#320c02"><span class="k9 o">1</span><span class="k9">7</span><span class="k4">.</span><span class="k9">8</span><span class="k9">7</span><span class="k9">5</span></div><div class="t b" style="left:14px;top:1011px"><span class="k9">9</span><span class="k9">7</span></div><div class="t cb" style="left:83px;top:1011px;color:#08203f"><span class="k9">L</span><span class="k9">o</span><span class="k9">u</span><span class="k4">i</span><span class="k8">s</span><span class="k4">i</span><span class="k9">a</span><span class="k9">n</span><span class="k9">a</span></div><div class="t cb" style="left:276px;top:1011px;color:#08203f"><span class="k4">I</span><span class="k9">b</span><span class="k9">e</span><span class="k5">r</span><span class="k8">v</span><span class="k4">i</span><span class="k4">l</span><span class="k4">l</span><span class="k9">e</span><span class="k4">&nbsp;</span><span class="k11">P</span><span class="k9">a</span><span class="k5">r</span><span class="k4">i</span><span class="k8">s</span><span class="k9">h</span></div><div class="t cb" style="left:403px;top:1011px;color:#08203f"><span class="k12">D</span></div><div class="t cb" style="left:455px;top:1011px;color:#08203f"><span class="k9">3</span><span class="k9">2</span><span class="k9">5</span><span class="k9 o">1</span><span class="k9 o">1</span></div><div class="t cb" style="left:521px;top:1011px;color:#08203f"><span class="k9 o">1</span><span class="k9">4</span><span class="k9 o">1</span><span class="k9">4</span></div><div class="t cb" style="left:602px;top:1011px;color:#08203f"><span class="k9">5</span><span class="k9">8</span></div><div class="t cb" style="left:638px;top:1011px;color:#08203f"><span class="k9">4</span><span class="k9">3</span><span class="k4">.</span><span class="k9">4</span><span class="k9">9</span><span class="k9">3</span></div><div class="t cb" style="left:701px;top:1011px;color:#08203f"><span class="k9 o">1</span><span class="k9">7</span><span class="k4">.</span><span class="k9">8</span><span class="k9">4</span><span class="k9">0</span></div><div class="t b" style="left:14px;top:1031px"><span class="k9">9</span><span class="k9">8</span></div><div class="t co" style="left:109px;top:1031px;color:#320c02"><span class="k10">T</span><span class="k9">e</span><span class="k8">x</span><span class="k9">a</span><span class="k8">s</span></div><div class="t co" style="left:287px;top:1031px;color:#320c02"><span class="k9">L</span><span class="k9">a</span><span class="k13">m</span><span class="k9">b</span><span class="k4">&nbsp;</span><span class="k12">C</span><span class="k9">o</span><span class="k9">u</span><span class="k9">n</span><span class="k4">t</span><span class="k8">y</span></div><div class="t co" style="left:403px;top:1031px;color:#320c02"><span class="k12">R</span></div><div class="t co" style="left:455px;top:1031px;color:#320c02"><span class="k9 o">1</span><span class="k9">2</span><span class="k9">8</span><span class="k9">9</span><span class="k9">3</span></div><div class="t co" style="left:530px;top:1031px;color:#320c02"><span class="k9">3</span><span class="k9">4</span><span class="k9">6</span></div><div class="t co" style="left:602px;top:1031px;color:#320c02"><span class="k9">2</span><span class="k9">3</span></div><div class="t co" style="left:638px;top:1031px;color:#320c02"><span class="k9">2</span><span class="k9">6</span><span class="k4">.</span><span class="k9">8</span><span class="k9">3</span><span class="k9">6</span></div><div class="t co" style="left:701px;top:1031px;color:#320c02"><span class="k9 o">1</span><span class="k9">7</span><span class="k4">.</span><span class="k9">8</span><span class="k9">3</span><span class="k9">9</span></div><div class="t b" style="left:14px;top:1051px"><span class="k9">9</span><span class="k9">9</span></div><div class="t cb" style="left:74px;top:1051px;color:#08203f"><span class="k13">M</span><span class="k4">i</span><span class="k8">s</span><span class="k8">s</span><span class="k4">i</span><span class="k8">s</span><span class="k8">s</span><span class="k4">i</span><span class="k9">p</span><span class="k9">p</span><span class="k4">i</span></div><div class="t cb" style="left:257px;top:1051px;color:#08203f"><span class="k12">C</span><span class="k4">l</span><span class="k9">a</span><span class="k4">i</span><span class="k9">b</span><span class="k9">o</span><span class="k5">r</span><span class="k9">n</span><span class="k9">e</span><span class="k4">&nbsp;</span><span class="k12">C</span><span class="k9">o</span><span class="k9">u</span><span class="k9">n</span><span class="k4">t</span><span class="k8">y</span></div><div class="t cb" style="left:403px;top:1051px;color:#08203f"><span class="k12">D</span></div><div class="t cb" style="left:464px;top:1051px;color:#08203f"><span class="k9">8</span><span class="k9">9</span><span class="k9">8</span><span class="k9">8</span></div><div class="t cb" style="left:530px;top:1051px;color:#08203f"><span class="k9">4</span><span class="k9">7</span><span class="k9">4</span></div><div class="t cb" style="left:602px;top:1051px;color:#08203f"><span class="k9 o">1</span><span class="k9">6</span></div><div class="t cb" style="left:638px;top:1051px;color:#08203f"><span class="k9">5</span><span class="k9">2</span><span class="k4">.</span><span class="k9">7</span><span class="k9">3</span><span class="k9">7</span></div><div class="t cb" style="left:701px;top:1051px;color:#08203f"><span class="k9 o">1</span><span class="k9">7</span><span class="k4">.</span><span class="k9">8</span><span class="k9">0</span><span class="k9">2</span></div><div class="t b" style="left:10px;top:1071px"><span class="k9 o">1</span><span class="k9">0</span><span class="k9">0</span></div><div class="t co" style="left:74px;top:1071px;color:#320c02"><span class="k13">M</span><span class="k4">i</span><span class="k8">s</span><span class="k8">s</span><span class="k4">i</span><span class="k8">s</span><span class="k8">s</span><span class="k4">i</span><span class="k9">p</span><span class="k9">p</span><span class="k4">i</span></div><div class="t co" style="left:264px;top:1071px;color:#320c02"><span class="k11">S</span><span class="k4">i</span><span class="k13">m</span><span class="k9">p</span><span class="k8">s</span><span class="k9">o</span><span class="k9">n</span><span class="k4">&nbsp;</span><span class="k12">C</span><span class="k9">o</span><span class="k9">u</span><span class="k9">n</span><span class="k4">t</span><span class="k8">y</span></div><div class="t co" style="left:403px;top:1071px;color:#320c02"><span class="k12">R</span></div><div class="t co" style="left:455px;top:1071px;color:#320c02"><span class="k9">2</span><span class="k9">6</span><span class="k9">6</span><span class="k9">5</span><span class="k9">8</span></div><div class="t co" style="left:521px;top:1071px;color:#320c02"><span class="k9 o">1</span><span class="k9">0</span><span class="k9">7</span><span class="k9">6</span></div><div class="t co" style="left:602px;top:1071px;color:#320c02"><span class="k9">4</span><span class="k9">7</span></div><div class="t co" style="left:638px;top:1071px;color:#320c02"><span class="k9">4</span><span class="k9">0</span><span class="k4">.</span><span class="k9">3</span><span class="k9">6</span><span class="k9">3</span></div><div class="t co" style="left:701px;top:1071px;color:#320c02"><span class="k9 o">1</span><span class="k9">7</span><span class="k4">.</span><span class="k9">6</span><span class="k9">3</span><span class="k9 o">1</span></div></body></html>
